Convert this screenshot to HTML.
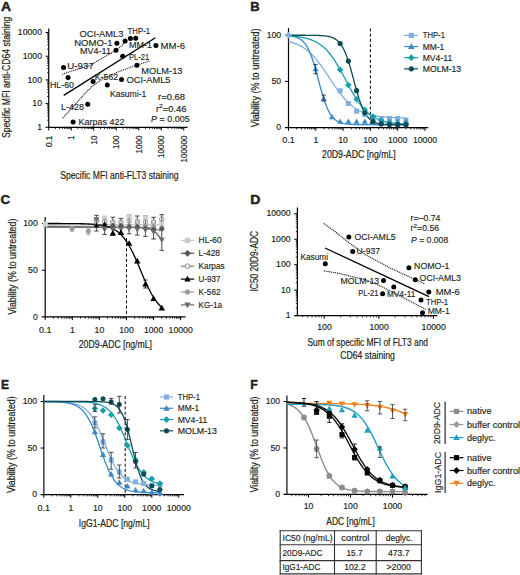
<!DOCTYPE html>
<html><head><meta charset="utf-8"><style>
html,body{margin:0;padding:0;background:#fff;}
svg{display:block;}
text{font-family:"Liberation Sans", sans-serif;fill:#231f20;stroke:#231f20;stroke-width:0.15px;}
.t{stroke-width:0.2px;}
.pl{stroke-width:0.45px;}
.ti{stroke-width:0.18px;}
</style></head><body>
<svg width="520" height="575" viewBox="0 0 520 575">
<rect width="520" height="575" fill="#fff"/>
<text x="0.9" y="11.1" font-size="13.4" class="pl" textLength="10.1" lengthAdjust="spacingAndGlyphs" font-weight="bold" fill="#000" stroke="#000">A</text>
<text x="250.3" y="10.8" font-size="13.4" class="pl" textLength="9.4" lengthAdjust="spacingAndGlyphs" font-weight="bold" fill="#000" stroke="#000">B</text>
<text x="0.6" y="204.1" font-size="13.4" class="pl" textLength="9.6" lengthAdjust="spacingAndGlyphs" font-weight="bold" fill="#000" stroke="#000">C</text>
<text x="250.2" y="204.1" font-size="13.4" class="pl" textLength="10.2" lengthAdjust="spacingAndGlyphs" font-weight="bold" fill="#000" stroke="#000">D</text>
<text x="1" y="389.2" font-size="13.4" class="pl" textLength="8" lengthAdjust="spacingAndGlyphs" font-weight="bold" fill="#000" stroke="#000">E</text>
<text x="250.3" y="389.2" font-size="13.4" class="pl" textLength="7.6" lengthAdjust="spacingAndGlyphs" font-weight="bold" fill="#000" stroke="#000">F</text>
<line x1="48.75" y1="28.5" x2="48.75" y2="127.8" stroke="#000" stroke-width="1.2"/>
<line x1="45.55" y1="127.3" x2="48.75" y2="127.3" stroke="#000" stroke-width="1"/>
<line x1="47.15" y1="120.17" x2="48.75" y2="120.17" stroke="#000" stroke-width="0.85"/>
<line x1="47.15" y1="115.99" x2="48.75" y2="115.99" stroke="#000" stroke-width="0.85"/>
<line x1="47.15" y1="113.03" x2="48.75" y2="113.03" stroke="#000" stroke-width="0.85"/>
<line x1="47.15" y1="110.73" x2="48.75" y2="110.73" stroke="#000" stroke-width="0.85"/>
<line x1="47.15" y1="108.86" x2="48.75" y2="108.86" stroke="#000" stroke-width="0.85"/>
<line x1="47.15" y1="107.27" x2="48.75" y2="107.27" stroke="#000" stroke-width="0.85"/>
<line x1="47.15" y1="105.9" x2="48.75" y2="105.9" stroke="#000" stroke-width="0.85"/>
<line x1="47.15" y1="104.68" x2="48.75" y2="104.68" stroke="#000" stroke-width="0.85"/>
<line x1="45.55" y1="103.6" x2="48.75" y2="103.6" stroke="#000" stroke-width="1"/>
<line x1="47.15" y1="96.47" x2="48.75" y2="96.47" stroke="#000" stroke-width="0.85"/>
<line x1="47.15" y1="92.29" x2="48.75" y2="92.29" stroke="#000" stroke-width="0.85"/>
<line x1="47.15" y1="89.33" x2="48.75" y2="89.33" stroke="#000" stroke-width="0.85"/>
<line x1="47.15" y1="87.03" x2="48.75" y2="87.03" stroke="#000" stroke-width="0.85"/>
<line x1="47.15" y1="85.16" x2="48.75" y2="85.16" stroke="#000" stroke-width="0.85"/>
<line x1="47.15" y1="83.57" x2="48.75" y2="83.57" stroke="#000" stroke-width="0.85"/>
<line x1="47.15" y1="82.2" x2="48.75" y2="82.2" stroke="#000" stroke-width="0.85"/>
<line x1="47.15" y1="80.98" x2="48.75" y2="80.98" stroke="#000" stroke-width="0.85"/>
<line x1="45.55" y1="79.9" x2="48.75" y2="79.9" stroke="#000" stroke-width="1"/>
<line x1="47.15" y1="72.77" x2="48.75" y2="72.77" stroke="#000" stroke-width="0.85"/>
<line x1="47.15" y1="68.59" x2="48.75" y2="68.59" stroke="#000" stroke-width="0.85"/>
<line x1="47.15" y1="65.63" x2="48.75" y2="65.63" stroke="#000" stroke-width="0.85"/>
<line x1="47.15" y1="63.33" x2="48.75" y2="63.33" stroke="#000" stroke-width="0.85"/>
<line x1="47.15" y1="61.46" x2="48.75" y2="61.46" stroke="#000" stroke-width="0.85"/>
<line x1="47.15" y1="59.87" x2="48.75" y2="59.87" stroke="#000" stroke-width="0.85"/>
<line x1="47.15" y1="58.5" x2="48.75" y2="58.5" stroke="#000" stroke-width="0.85"/>
<line x1="47.15" y1="57.28" x2="48.75" y2="57.28" stroke="#000" stroke-width="0.85"/>
<line x1="45.55" y1="56.2" x2="48.75" y2="56.2" stroke="#000" stroke-width="1"/>
<line x1="47.15" y1="49.07" x2="48.75" y2="49.07" stroke="#000" stroke-width="0.85"/>
<line x1="47.15" y1="44.89" x2="48.75" y2="44.89" stroke="#000" stroke-width="0.85"/>
<line x1="47.15" y1="41.93" x2="48.75" y2="41.93" stroke="#000" stroke-width="0.85"/>
<line x1="47.15" y1="39.63" x2="48.75" y2="39.63" stroke="#000" stroke-width="0.85"/>
<line x1="47.15" y1="37.76" x2="48.75" y2="37.76" stroke="#000" stroke-width="0.85"/>
<line x1="47.15" y1="36.17" x2="48.75" y2="36.17" stroke="#000" stroke-width="0.85"/>
<line x1="47.15" y1="34.8" x2="48.75" y2="34.8" stroke="#000" stroke-width="0.85"/>
<line x1="47.15" y1="33.58" x2="48.75" y2="33.58" stroke="#000" stroke-width="0.85"/>
<line x1="45.55" y1="32.5" x2="48.75" y2="32.5" stroke="#000" stroke-width="1"/>
<line x1="48.1" y1="127.3" x2="187.5" y2="127.3" stroke="#000" stroke-width="1.2"/>
<line x1="48.75" y1="127.3" x2="48.75" y2="130.5" stroke="#000" stroke-width="1"/>
<line x1="55.52" y1="127.3" x2="55.52" y2="129.1" stroke="#000" stroke-width="0.85"/>
<line x1="59.49" y1="127.3" x2="59.49" y2="129.1" stroke="#000" stroke-width="0.85"/>
<line x1="62.3" y1="127.3" x2="62.3" y2="129.1" stroke="#000" stroke-width="0.85"/>
<line x1="64.48" y1="127.3" x2="64.48" y2="129.1" stroke="#000" stroke-width="0.85"/>
<line x1="66.26" y1="127.3" x2="66.26" y2="129.1" stroke="#000" stroke-width="0.85"/>
<line x1="67.76" y1="127.3" x2="67.76" y2="129.1" stroke="#000" stroke-width="0.85"/>
<line x1="69.07" y1="127.3" x2="69.07" y2="129.1" stroke="#000" stroke-width="0.85"/>
<line x1="70.22" y1="127.3" x2="70.22" y2="129.1" stroke="#000" stroke-width="0.85"/>
<line x1="71.25" y1="127.3" x2="71.25" y2="130.5" stroke="#000" stroke-width="1"/>
<line x1="78.02" y1="127.3" x2="78.02" y2="129.1" stroke="#000" stroke-width="0.85"/>
<line x1="81.99" y1="127.3" x2="81.99" y2="129.1" stroke="#000" stroke-width="0.85"/>
<line x1="84.8" y1="127.3" x2="84.8" y2="129.1" stroke="#000" stroke-width="0.85"/>
<line x1="86.98" y1="127.3" x2="86.98" y2="129.1" stroke="#000" stroke-width="0.85"/>
<line x1="88.76" y1="127.3" x2="88.76" y2="129.1" stroke="#000" stroke-width="0.85"/>
<line x1="90.26" y1="127.3" x2="90.26" y2="129.1" stroke="#000" stroke-width="0.85"/>
<line x1="91.57" y1="127.3" x2="91.57" y2="129.1" stroke="#000" stroke-width="0.85"/>
<line x1="92.72" y1="127.3" x2="92.72" y2="129.1" stroke="#000" stroke-width="0.85"/>
<line x1="93.75" y1="127.3" x2="93.75" y2="130.5" stroke="#000" stroke-width="1"/>
<line x1="100.52" y1="127.3" x2="100.52" y2="129.1" stroke="#000" stroke-width="0.85"/>
<line x1="104.49" y1="127.3" x2="104.49" y2="129.1" stroke="#000" stroke-width="0.85"/>
<line x1="107.3" y1="127.3" x2="107.3" y2="129.1" stroke="#000" stroke-width="0.85"/>
<line x1="109.48" y1="127.3" x2="109.48" y2="129.1" stroke="#000" stroke-width="0.85"/>
<line x1="111.26" y1="127.3" x2="111.26" y2="129.1" stroke="#000" stroke-width="0.85"/>
<line x1="112.76" y1="127.3" x2="112.76" y2="129.1" stroke="#000" stroke-width="0.85"/>
<line x1="114.07" y1="127.3" x2="114.07" y2="129.1" stroke="#000" stroke-width="0.85"/>
<line x1="115.22" y1="127.3" x2="115.22" y2="129.1" stroke="#000" stroke-width="0.85"/>
<line x1="116.25" y1="127.3" x2="116.25" y2="130.5" stroke="#000" stroke-width="1"/>
<line x1="123.02" y1="127.3" x2="123.02" y2="129.1" stroke="#000" stroke-width="0.85"/>
<line x1="126.99" y1="127.3" x2="126.99" y2="129.1" stroke="#000" stroke-width="0.85"/>
<line x1="129.8" y1="127.3" x2="129.8" y2="129.1" stroke="#000" stroke-width="0.85"/>
<line x1="131.98" y1="127.3" x2="131.98" y2="129.1" stroke="#000" stroke-width="0.85"/>
<line x1="133.76" y1="127.3" x2="133.76" y2="129.1" stroke="#000" stroke-width="0.85"/>
<line x1="135.26" y1="127.3" x2="135.26" y2="129.1" stroke="#000" stroke-width="0.85"/>
<line x1="136.57" y1="127.3" x2="136.57" y2="129.1" stroke="#000" stroke-width="0.85"/>
<line x1="137.72" y1="127.3" x2="137.72" y2="129.1" stroke="#000" stroke-width="0.85"/>
<line x1="138.75" y1="127.3" x2="138.75" y2="130.5" stroke="#000" stroke-width="1"/>
<line x1="145.52" y1="127.3" x2="145.52" y2="129.1" stroke="#000" stroke-width="0.85"/>
<line x1="149.49" y1="127.3" x2="149.49" y2="129.1" stroke="#000" stroke-width="0.85"/>
<line x1="152.3" y1="127.3" x2="152.3" y2="129.1" stroke="#000" stroke-width="0.85"/>
<line x1="154.48" y1="127.3" x2="154.48" y2="129.1" stroke="#000" stroke-width="0.85"/>
<line x1="156.26" y1="127.3" x2="156.26" y2="129.1" stroke="#000" stroke-width="0.85"/>
<line x1="157.76" y1="127.3" x2="157.76" y2="129.1" stroke="#000" stroke-width="0.85"/>
<line x1="159.07" y1="127.3" x2="159.07" y2="129.1" stroke="#000" stroke-width="0.85"/>
<line x1="160.22" y1="127.3" x2="160.22" y2="129.1" stroke="#000" stroke-width="0.85"/>
<line x1="161.25" y1="127.3" x2="161.25" y2="130.5" stroke="#000" stroke-width="1"/>
<line x1="168.02" y1="127.3" x2="168.02" y2="129.1" stroke="#000" stroke-width="0.85"/>
<line x1="171.99" y1="127.3" x2="171.99" y2="129.1" stroke="#000" stroke-width="0.85"/>
<line x1="174.8" y1="127.3" x2="174.8" y2="129.1" stroke="#000" stroke-width="0.85"/>
<line x1="176.98" y1="127.3" x2="176.98" y2="129.1" stroke="#000" stroke-width="0.85"/>
<line x1="178.76" y1="127.3" x2="178.76" y2="129.1" stroke="#000" stroke-width="0.85"/>
<line x1="180.26" y1="127.3" x2="180.26" y2="129.1" stroke="#000" stroke-width="0.85"/>
<line x1="181.57" y1="127.3" x2="181.57" y2="129.1" stroke="#000" stroke-width="0.85"/>
<line x1="182.72" y1="127.3" x2="182.72" y2="129.1" stroke="#000" stroke-width="0.85"/>
<line x1="183.75" y1="127.3" x2="183.75" y2="130.5" stroke="#000" stroke-width="1"/>
<text x="42" y="35.2" font-size="9" class="ti" textLength="24.2" lengthAdjust="spacingAndGlyphs" text-anchor="end">10000</text>
<text x="42" y="58.9" font-size="9" class="ti" textLength="19.36" lengthAdjust="spacingAndGlyphs" text-anchor="end">1000</text>
<text x="42" y="82.6" font-size="9" class="ti" textLength="14.52" lengthAdjust="spacingAndGlyphs" text-anchor="end">100</text>
<text x="42" y="106.3" font-size="9" class="ti" textLength="9.68" lengthAdjust="spacingAndGlyphs" text-anchor="end">10</text>
<text x="42" y="130" font-size="9" class="ti" textLength="4.84" lengthAdjust="spacingAndGlyphs" text-anchor="end">1</text>
<text transform="translate(51.95 135.5) rotate(-90)" font-size="8.6" class="ti" textLength="11.61" lengthAdjust="spacingAndGlyphs" text-anchor="end">0.1</text>
<text transform="translate(74.45 135.5) rotate(-90)" font-size="8.6" class="ti" textLength="4.5" lengthAdjust="spacingAndGlyphs" text-anchor="end">1</text>
<text transform="translate(96.95 135.5) rotate(-90)" font-size="8.6" class="ti" textLength="9" lengthAdjust="spacingAndGlyphs" text-anchor="end">10</text>
<text transform="translate(119.45 135.5) rotate(-90)" font-size="8.6" class="ti" textLength="13.5" lengthAdjust="spacingAndGlyphs" text-anchor="end">100</text>
<text transform="translate(141.95 135.5) rotate(-90)" font-size="8.6" class="ti" textLength="18" lengthAdjust="spacingAndGlyphs" text-anchor="end">1000</text>
<text transform="translate(164.45 135.5) rotate(-90)" font-size="8.6" class="ti" textLength="22.51" lengthAdjust="spacingAndGlyphs" text-anchor="end">10000</text>
<text transform="translate(186.95 135.5) rotate(-90)" font-size="8.6" class="ti" textLength="27.01" lengthAdjust="spacingAndGlyphs" text-anchor="end">100000</text>
<text transform="translate(9.8 77.3) rotate(-90)" font-size="10.8" class="t" textLength="121.3" lengthAdjust="spacingAndGlyphs" text-anchor="middle">Specific MFI anti-CD64 staining</text>
<text x="60.2" y="178.7" font-size="10.8" class="t" textLength="118.3" lengthAdjust="spacingAndGlyphs">Specific MFI anti-FLT3 staining</text>
<polyline points="62.8,74.1 75,70 89.6,65.5 100,59.5 112.1,52.5 120.8,46.6 126,40.8" fill="none" stroke="#2a2a2a" stroke-width="1.3" stroke-linejoin="round" stroke-dasharray="0.01,1.9" stroke-linecap="round"/>
<polyline points="63.1,117.5 70,110.2 77.7,101.5 85,93.5 92.3,86.2 103.1,78.5 119.2,71.5 134.6,65.8 150.6,60.6" fill="none" stroke="#2a2a2a" stroke-width="1.3" stroke-linejoin="round" stroke-dasharray="0.01,1.9" stroke-linecap="round"/>
<line x1="63.7" y1="95.4" x2="155.4" y2="37.8" stroke="#000" stroke-width="1.3"/>
<circle cx="73.1" cy="121.9" r="2.5" fill="#000"/>
<circle cx="87.75" cy="104.2" r="2.5" fill="#000"/>
<circle cx="68.1" cy="77.5" r="2.5" fill="#000"/>
<circle cx="63.5" cy="67.6" r="2.5" fill="#000"/>
<circle cx="93.1" cy="81.5" r="2.5" fill="#000"/>
<circle cx="107.3" cy="85" r="2.5" fill="#000"/>
<circle cx="121.5" cy="79.4" r="2.5" fill="#000"/>
<circle cx="136.9" cy="65.3" r="2.5" fill="#000"/>
<circle cx="122.7" cy="56.25" r="2.5" fill="#000"/>
<circle cx="116" cy="50.2" r="2.5" fill="#000"/>
<circle cx="116.9" cy="43.3" r="2.5" fill="#000"/>
<circle cx="125.1" cy="40.9" r="2.5" fill="#000"/>
<circle cx="130.4" cy="38.5" r="2.5" fill="#000"/>
<circle cx="135.7" cy="38.3" r="2.5" fill="#000"/>
<circle cx="155.9" cy="45.4" r="2.5" fill="#000"/>
<text x="79.4" y="37.2" font-size="9.4" textLength="44.1" lengthAdjust="spacingAndGlyphs">OCI-AML3</text>
<text x="127.5" y="33.7" font-size="9.4" textLength="22.6" lengthAdjust="spacingAndGlyphs">THP-1</text>
<text x="74.2" y="45.8" font-size="9.4" textLength="38.3" lengthAdjust="spacingAndGlyphs">NOMO-1</text>
<text x="129" y="48.2" font-size="9.4" textLength="23" lengthAdjust="spacingAndGlyphs">MM-1</text>
<text x="160.6" y="48.6" font-size="9.4" textLength="24.4" lengthAdjust="spacingAndGlyphs">MM-6</text>
<text x="80" y="53.9" font-size="9.4" textLength="31" lengthAdjust="spacingAndGlyphs">MV4-11</text>
<text x="129" y="60.1" font-size="9.4" textLength="20.1" lengthAdjust="spacingAndGlyphs">PL-21</text>
<text x="67.3" y="69.1" font-size="9.4" textLength="26.5" lengthAdjust="spacingAndGlyphs">U-937</text>
<text x="141.2" y="74.1" font-size="9.4" textLength="41.3" lengthAdjust="spacingAndGlyphs">MOLM-13</text>
<text x="94.8" y="79.5" font-size="9.4" textLength="23.3" lengthAdjust="spacingAndGlyphs">K-562</text>
<text x="126.5" y="83.2" font-size="9.4" textLength="44" lengthAdjust="spacingAndGlyphs">OCI-AML5</text>
<text x="50" y="87.6" font-size="9.4" textLength="24" lengthAdjust="spacingAndGlyphs">HL-60</text>
<text x="110" y="96.6" font-size="9.4" textLength="36.3" lengthAdjust="spacingAndGlyphs">Kasumi-1</text>
<text x="61" y="109.5" font-size="9.4" textLength="23" lengthAdjust="spacingAndGlyphs">L-428</text>
<text x="78.5" y="124.5" font-size="9.4" textLength="46" lengthAdjust="spacingAndGlyphs">Karpas 422</text>
<text x="158" y="99.6" font-size="8.6" textLength="27" lengthAdjust="spacingAndGlyphs">r=0.68</text>
<text x="155.9" y="111.7" font-size="8.6" textLength="30.6" lengthAdjust="spacingAndGlyphs">r<tspan font-size="6.2" dy="-3.3">2</tspan><tspan dy="3.3">=0.46</tspan></text>
<text x="151.1" y="121.8" font-size="8.6" textLength="38.6" lengthAdjust="spacingAndGlyphs"><tspan font-style="italic">P</tspan> = 0.005</text>
<line x1="288.5" y1="28.2" x2="288.5" y2="128.1" stroke="#000" stroke-width="1.2"/>
<line x1="285" y1="35.25" x2="288.5" y2="35.25" stroke="#000" stroke-width="1"/>
<line x1="285" y1="81.38" x2="288.5" y2="81.38" stroke="#000" stroke-width="1"/>
<line x1="285" y1="127.6" x2="428.2" y2="127.6" stroke="#000" stroke-width="1.2"/>
<line x1="288.5" y1="127.6" x2="288.5" y2="130.8" stroke="#000" stroke-width="1"/>
<line x1="296.72" y1="127.6" x2="296.72" y2="129.4" stroke="#000" stroke-width="0.85"/>
<line x1="301.53" y1="127.6" x2="301.53" y2="129.4" stroke="#000" stroke-width="0.85"/>
<line x1="304.94" y1="127.6" x2="304.94" y2="129.4" stroke="#000" stroke-width="0.85"/>
<line x1="307.58" y1="127.6" x2="307.58" y2="129.4" stroke="#000" stroke-width="0.85"/>
<line x1="309.74" y1="127.6" x2="309.74" y2="129.4" stroke="#000" stroke-width="0.85"/>
<line x1="311.57" y1="127.6" x2="311.57" y2="129.4" stroke="#000" stroke-width="0.85"/>
<line x1="313.15" y1="127.6" x2="313.15" y2="129.4" stroke="#000" stroke-width="0.85"/>
<line x1="314.55" y1="127.6" x2="314.55" y2="129.4" stroke="#000" stroke-width="0.85"/>
<line x1="315.8" y1="127.6" x2="315.8" y2="130.8" stroke="#000" stroke-width="1"/>
<line x1="324.02" y1="127.6" x2="324.02" y2="129.4" stroke="#000" stroke-width="0.85"/>
<line x1="328.83" y1="127.6" x2="328.83" y2="129.4" stroke="#000" stroke-width="0.85"/>
<line x1="332.24" y1="127.6" x2="332.24" y2="129.4" stroke="#000" stroke-width="0.85"/>
<line x1="334.88" y1="127.6" x2="334.88" y2="129.4" stroke="#000" stroke-width="0.85"/>
<line x1="337.04" y1="127.6" x2="337.04" y2="129.4" stroke="#000" stroke-width="0.85"/>
<line x1="338.87" y1="127.6" x2="338.87" y2="129.4" stroke="#000" stroke-width="0.85"/>
<line x1="340.45" y1="127.6" x2="340.45" y2="129.4" stroke="#000" stroke-width="0.85"/>
<line x1="341.85" y1="127.6" x2="341.85" y2="129.4" stroke="#000" stroke-width="0.85"/>
<line x1="343.1" y1="127.6" x2="343.1" y2="130.8" stroke="#000" stroke-width="1"/>
<line x1="351.32" y1="127.6" x2="351.32" y2="129.4" stroke="#000" stroke-width="0.85"/>
<line x1="356.13" y1="127.6" x2="356.13" y2="129.4" stroke="#000" stroke-width="0.85"/>
<line x1="359.54" y1="127.6" x2="359.54" y2="129.4" stroke="#000" stroke-width="0.85"/>
<line x1="362.18" y1="127.6" x2="362.18" y2="129.4" stroke="#000" stroke-width="0.85"/>
<line x1="364.34" y1="127.6" x2="364.34" y2="129.4" stroke="#000" stroke-width="0.85"/>
<line x1="366.17" y1="127.6" x2="366.17" y2="129.4" stroke="#000" stroke-width="0.85"/>
<line x1="367.75" y1="127.6" x2="367.75" y2="129.4" stroke="#000" stroke-width="0.85"/>
<line x1="369.15" y1="127.6" x2="369.15" y2="129.4" stroke="#000" stroke-width="0.85"/>
<line x1="370.4" y1="127.6" x2="370.4" y2="130.8" stroke="#000" stroke-width="1"/>
<line x1="378.62" y1="127.6" x2="378.62" y2="129.4" stroke="#000" stroke-width="0.85"/>
<line x1="383.43" y1="127.6" x2="383.43" y2="129.4" stroke="#000" stroke-width="0.85"/>
<line x1="386.84" y1="127.6" x2="386.84" y2="129.4" stroke="#000" stroke-width="0.85"/>
<line x1="389.48" y1="127.6" x2="389.48" y2="129.4" stroke="#000" stroke-width="0.85"/>
<line x1="391.64" y1="127.6" x2="391.64" y2="129.4" stroke="#000" stroke-width="0.85"/>
<line x1="393.47" y1="127.6" x2="393.47" y2="129.4" stroke="#000" stroke-width="0.85"/>
<line x1="395.05" y1="127.6" x2="395.05" y2="129.4" stroke="#000" stroke-width="0.85"/>
<line x1="396.45" y1="127.6" x2="396.45" y2="129.4" stroke="#000" stroke-width="0.85"/>
<line x1="397.7" y1="127.6" x2="397.7" y2="130.8" stroke="#000" stroke-width="1"/>
<line x1="405.92" y1="127.6" x2="405.92" y2="129.4" stroke="#000" stroke-width="0.85"/>
<line x1="410.73" y1="127.6" x2="410.73" y2="129.4" stroke="#000" stroke-width="0.85"/>
<line x1="414.14" y1="127.6" x2="414.14" y2="129.4" stroke="#000" stroke-width="0.85"/>
<line x1="416.78" y1="127.6" x2="416.78" y2="129.4" stroke="#000" stroke-width="0.85"/>
<line x1="418.94" y1="127.6" x2="418.94" y2="129.4" stroke="#000" stroke-width="0.85"/>
<line x1="420.77" y1="127.6" x2="420.77" y2="129.4" stroke="#000" stroke-width="0.85"/>
<line x1="422.35" y1="127.6" x2="422.35" y2="129.4" stroke="#000" stroke-width="0.85"/>
<line x1="423.75" y1="127.6" x2="423.75" y2="129.4" stroke="#000" stroke-width="0.85"/>
<line x1="425" y1="127.6" x2="425" y2="130.8" stroke="#000" stroke-width="1"/>
<text x="281.2" y="37.95" font-size="9" class="ti" textLength="14.52" lengthAdjust="spacingAndGlyphs" text-anchor="end">100</text>
<text x="281.2" y="84.08" font-size="9" class="ti" textLength="9.68" lengthAdjust="spacingAndGlyphs" text-anchor="end">50</text>
<text x="281.2" y="130.2" font-size="9" class="ti" textLength="4.84" lengthAdjust="spacingAndGlyphs" text-anchor="end">0</text>
<text x="288.5" y="142.5" font-size="9" class="ti" textLength="12.48" lengthAdjust="spacingAndGlyphs" text-anchor="middle">0.1</text>
<text x="315.8" y="142.5" font-size="9" class="ti" textLength="4.84" lengthAdjust="spacingAndGlyphs" text-anchor="middle">1</text>
<text x="343.1" y="142.5" font-size="9" class="ti" textLength="9.68" lengthAdjust="spacingAndGlyphs" text-anchor="middle">10</text>
<text x="370.4" y="142.5" font-size="9" class="ti" textLength="14.52" lengthAdjust="spacingAndGlyphs" text-anchor="middle">100</text>
<text x="397.7" y="142.5" font-size="9" class="ti" textLength="19.36" lengthAdjust="spacingAndGlyphs" text-anchor="middle">1000</text>
<text x="425" y="142.5" font-size="9" class="ti" textLength="24.2" lengthAdjust="spacingAndGlyphs" text-anchor="middle">10000</text>
<text x="322.1" y="157.8" font-size="10.4" class="t" textLength="73.6" lengthAdjust="spacingAndGlyphs">20D9-ADC [ng/mL]</text>
<text transform="translate(259 77.8) rotate(-90)" font-size="10.3" class="t" textLength="98.9" lengthAdjust="spacingAndGlyphs" text-anchor="middle">Viability (% to untreated)</text>
<line x1="370.4" y1="28.5" x2="370.4" y2="127" stroke="#000" stroke-width="1" stroke-dasharray="3,2.2"/>
<polyline points="288.5,41.41 289.97,41.8 291.44,42.22 292.9,42.68 294.37,43.2 295.84,43.77 297.31,44.39 298.77,45.07 300.24,45.82 301.71,46.65 303.18,47.54 304.64,48.52 306.11,49.58 307.58,50.72 309.05,51.96 310.52,53.29 311.98,54.72 313.45,56.24 314.92,57.86 316.39,59.57 317.85,61.37 319.32,63.25 320.79,65.22 322.26,67.26 323.73,69.36 325.19,71.51 326.66,73.7 328.13,75.92 329.6,78.16 331.06,80.39 332.53,82.61 334,84.8 335.47,86.95 336.93,89.05 338.4,91.09 339.87,93.05 341.34,94.94 342.81,96.74 344.27,98.45 345.74,100.07 347.21,101.59 348.68,103.01 350.14,104.34 351.61,105.58 353.08,106.72 354.55,107.78 356.02,108.76 357.48,109.65 358.95,110.47 360.42,111.22 361.89,111.91 363.35,112.53 364.82,113.1 366.29,113.61 367.76,114.08 369.22,114.5 370.69,114.88 372.16,115.23 373.63,115.54 375.1,115.82 376.56,116.07 378.03,116.29 379.5,116.5 380.97,116.68 382.43,116.85 383.9,117 385.37,117.13 386.84,117.25 388.31,117.35 389.77,117.45 391.24,117.54 392.71,117.61 394.18,117.68 395.64,117.75 397.11,117.8 398.58,117.85 400.05,117.9 401.51,117.93 402.98,117.97 404.45,118 405.92,118.03" fill="none" stroke="#7fb0e0" stroke-width="1.3" stroke-linejoin="round"/>
<polyline points="288.5,35.82 289.97,35.98 291.44,36.18 292.9,36.44 294.37,36.77 295.84,37.18 297.31,37.71 298.77,38.38 300.24,39.22 301.71,40.27 303.18,41.58 304.64,43.2 306.11,45.18 307.58,47.59 309.05,50.47 310.52,53.85 311.98,57.76 313.45,62.19 314.92,67.06 316.39,72.3 317.85,77.76 319.32,83.29 320.79,88.72 322.26,93.9 323.73,98.69 325.19,103.02 326.66,106.83 328.13,110.11 329.6,112.9 331.06,115.22 332.53,117.13 334,118.68 335.47,119.94 336.93,120.94 338.4,121.75 339.87,122.38 341.34,122.89 342.81,123.29 344.27,123.6 345.74,123.85 347.21,124.04 348.68,124.19 350.14,124.31 351.61,124.4 353.08,124.47 354.55,124.53 356.02,124.57 357.48,124.61 358.95,124.64 360.42,124.66 361.89,124.67 363.35,124.69 364.82,124.7 366.29,124.7 367.76,124.71 369.22,124.72 370.69,124.72 372.16,124.72 373.63,124.72 375.1,124.73 376.56,124.73 378.03,124.73 379.5,124.73 380.97,124.73 382.43,124.73 383.9,124.73 385.37,124.73 386.84,124.73 388.31,124.73 389.77,124.73 391.24,124.73 392.71,124.73 394.18,124.73 395.64,124.73 397.11,124.73 398.58,124.73 400.05,124.73 401.51,124.73 402.98,124.73 404.45,124.73 405.92,124.73" fill="none" stroke="#3a88c8" stroke-width="1.3" stroke-linejoin="round"/>
<polyline points="288.5,35.96 289.97,36.05 291.44,36.16 292.9,36.28 294.37,36.41 295.84,36.56 297.31,36.73 298.77,36.92 300.24,37.14 301.71,37.38 303.18,37.65 304.64,37.96 306.11,38.3 307.58,38.69 309.05,39.13 310.52,39.61 311.98,40.15 313.45,40.76 314.92,41.44 316.39,42.19 317.85,43.02 319.32,43.95 320.79,44.97 322.26,46.1 323.73,47.33 325.19,48.69 326.66,50.16 328.13,51.76 329.6,53.5 331.06,55.36 332.53,57.36 334,59.48 335.47,61.73 336.93,64.09 338.4,66.56 339.87,69.13 341.34,71.77 342.81,74.47 344.27,77.22 345.74,79.98 347.21,82.75 348.68,85.49 350.14,88.2 351.61,90.84 353.08,93.4 354.55,95.88 356.02,98.24 357.48,100.49 358.95,102.62 360.42,104.61 361.89,106.48 363.35,108.21 364.82,109.81 366.29,111.29 367.76,112.64 369.22,113.88 370.69,115.01 372.16,116.03 373.63,116.95 375.1,117.79 376.56,118.54 378.03,119.22 379.5,119.83 380.97,120.37 382.43,120.85 383.9,121.29 385.37,121.68 386.84,122.02 388.31,122.33 389.77,122.6 391.24,122.84 392.71,123.06 394.18,123.25 395.64,123.42 397.11,123.57 398.58,123.71 400.05,123.82 401.51,123.93 402.98,124.02 404.45,124.1 405.92,124.18" fill="none" stroke="#17a0aa" stroke-width="1.3" stroke-linejoin="round"/>
<polyline points="288.5,35.25 289.97,35.25 291.44,35.25 292.9,35.25 294.37,35.25 295.84,35.26 297.31,35.26 298.77,35.26 300.24,35.26 301.71,35.26 303.18,35.27 304.64,35.27 306.11,35.28 307.58,35.29 309.05,35.3 310.52,35.31 311.98,35.33 313.45,35.35 314.92,35.38 316.39,35.41 317.85,35.46 319.32,35.52 320.79,35.59 322.26,35.69 323.73,35.81 325.19,35.97 326.66,36.17 328.13,36.43 329.6,36.75 331.06,37.17 332.53,37.69 334,38.35 335.47,39.18 336.93,40.23 338.4,41.53 339.87,43.13 341.34,45.11 342.81,47.49 344.27,50.35 345.74,53.72 347.21,57.61 348.68,62.02 350.14,66.88 351.61,72.1 353.08,77.56 354.55,83.09 356.02,88.53 357.48,93.72 358.95,98.53 360.42,102.87 361.89,106.7 363.35,110 364.82,112.8 366.29,115.14 367.76,117.06 369.22,118.63 370.69,119.9 372.16,120.91 373.63,121.72 375.1,122.36 376.56,122.87 378.03,123.27 379.5,123.59 380.97,123.84 382.43,124.03 383.9,124.19 385.37,124.3 386.84,124.4 388.31,124.47 389.77,124.53 391.24,124.57 392.71,124.61 394.18,124.64 395.64,124.66 397.11,124.67 398.58,124.69 400.05,124.7 401.51,124.7 402.98,124.71 404.45,124.72 405.92,124.72" fill="none" stroke="#0c4a58" stroke-width="1.3" stroke-linejoin="round"/>
<rect x="403.42" y="117.5" width="5" height="5" fill="#7fb0e0"/>
<rect x="395.2" y="116" width="5" height="5" fill="#7fb0e0"/>
<rect x="386.98" y="116" width="5" height="5" fill="#7fb0e0"/>
<rect x="378.76" y="116" width="5" height="5" fill="#7fb0e0"/>
<rect x="370.55" y="114.9" width="5" height="5" fill="#7fb0e0"/>
<rect x="362.33" y="112.1" width="5" height="5" fill="#7fb0e0"/>
<rect x="354.11" y="108.7" width="5" height="5" fill="#7fb0e0"/>
<rect x="345.87" y="101" width="5" height="5" fill="#7fb0e0"/>
<rect x="337.65" y="88.3" width="5" height="5" fill="#7fb0e0"/>
<polygon points="405.92,118.5 408.92,123.75 402.92,123.75" fill="#3a88c8"/>
<polygon points="397.7,118.5 400.7,123.75 394.7,123.75" fill="#3a88c8"/>
<polygon points="389.48,118.5 392.48,123.75 386.48,123.75" fill="#3a88c8"/>
<polygon points="381.26,118.5 384.26,123.75 378.26,123.75" fill="#3a88c8"/>
<polygon points="373.05,118.5 376.05,123.75 370.05,123.75" fill="#3a88c8"/>
<polygon points="364.83,118.5 367.83,123.75 361.83,123.75" fill="#3a88c8"/>
<polygon points="356.61,118.5 359.61,123.75 353.61,123.75" fill="#3a88c8"/>
<polygon points="348.37,118.5 351.37,123.75 345.37,123.75" fill="#3a88c8"/>
<polygon points="340.15,118.5 343.15,123.75 337.15,123.75" fill="#3a88c8"/>
<polygon points="331.94,113.9 334.94,119.15 328.94,119.15" fill="#3a88c8"/>
<polygon points="323.72,95.7 326.72,100.95 320.72,100.95" fill="#3a88c8"/>
<polygon points="315.56,66 318.56,71.25 312.56,71.25" fill="#3a88c8"/>
<line x1="315.56" y1="64.4" x2="315.56" y2="73.7" stroke="#222" stroke-width="0.8"/>
<line x1="313.36" y1="64.4" x2="317.76" y2="64.4" stroke="#222" stroke-width="0.8"/>
<line x1="313.36" y1="73.7" x2="317.76" y2="73.7" stroke="#222" stroke-width="0.8"/>
<line x1="323.72" y1="95" x2="323.72" y2="101" stroke="#222" stroke-width="0.8"/>
<line x1="321.52" y1="95" x2="325.92" y2="95" stroke="#222" stroke-width="0.8"/>
<line x1="321.52" y1="101" x2="325.92" y2="101" stroke="#222" stroke-width="0.8"/>
<polygon points="405.92,120.93 409.17,124.18 405.92,127.43 402.67,124.18" fill="#17a0aa"/>
<polygon points="397.7,120.38 400.95,123.63 397.7,126.88 394.45,123.63" fill="#17a0aa"/>
<polygon points="389.48,119.3 392.73,122.55 389.48,125.8 386.23,122.55" fill="#17a0aa"/>
<polygon points="381.26,117.22 384.51,120.47 381.26,123.72 378.01,120.47" fill="#17a0aa"/>
<polygon points="373.05,113.35 376.3,116.6 373.05,119.85 369.8,116.6" fill="#17a0aa"/>
<polygon points="364.83,106.57 368.08,109.82 364.83,113.07 361.58,109.82" fill="#17a0aa"/>
<polygon points="356.61,95.92 359.86,99.17 356.61,102.42 353.36,99.17" fill="#17a0aa"/>
<polygon points="348.37,81.68 351.62,84.93 348.37,88.18 345.12,84.93" fill="#17a0aa"/>
<polygon points="340.15,66.38 343.4,69.63 340.15,72.88 336.9,69.63" fill="#17a0aa"/>
<circle cx="405.92" cy="124.72" r="2.6" fill="#0c4a58"/>
<circle cx="397.7" cy="124.68" r="2.6" fill="#0c4a58"/>
<circle cx="389.48" cy="124.52" r="2.6" fill="#0c4a58"/>
<circle cx="381.26" cy="123.88" r="2.6" fill="#0c4a58"/>
<circle cx="373.05" cy="121.42" r="2.6" fill="#0c4a58"/>
<circle cx="364.83" cy="112.81" r="2.6" fill="#0c4a58"/>
<circle cx="356.61" cy="90.67" r="2.6" fill="#0c4a58"/>
<circle cx="348.37" cy="61.06" r="2.6" fill="#0c4a58"/>
<circle cx="340.15" cy="43.49" r="2.6" fill="#0c4a58"/>
<polygon points="288.5,31.87 291.88,35.25 288.5,38.63 285.12,35.25" fill="#7fb0e0"/>
<line x1="404.2" y1="35.4" x2="418" y2="35.4" stroke="#7fb0e0" stroke-width="1.2"/>
<rect x="408.7" y="32.8" width="5.2" height="5.2" fill="#7fb0e0"/>
<text x="422.7" y="38.4" font-size="8.4" textLength="22.3" lengthAdjust="spacingAndGlyphs">THP-1</text>
<line x1="404.2" y1="46.55" x2="418" y2="46.55" stroke="#3a88c8" stroke-width="1.2"/>
<polygon points="411.3,43.3 414.55,48.99 408.05,48.99" fill="#3a88c8"/>
<text x="422.7" y="49.55" font-size="8.4" textLength="21.5" lengthAdjust="spacingAndGlyphs">MM-1</text>
<line x1="404.2" y1="57.7" x2="418" y2="57.7" stroke="#17a0aa" stroke-width="1.2"/>
<polygon points="411.3,54.32 414.68,57.7 411.3,61.08 407.92,57.7" fill="#17a0aa"/>
<text x="422.7" y="60.7" font-size="8.4" textLength="29.5" lengthAdjust="spacingAndGlyphs">MV4-11</text>
<line x1="404.2" y1="68.85" x2="418" y2="68.85" stroke="#0c4a58" stroke-width="1.2"/>
<circle cx="411.3" cy="68.85" r="2.6" fill="#0c4a58"/>
<text x="422.7" y="71.85" font-size="8.4" textLength="38.5" lengthAdjust="spacingAndGlyphs">MOLM-13</text>
<line x1="45.2" y1="216.9" x2="45.2" y2="317.5" stroke="#000" stroke-width="1.2"/>
<line x1="41.9" y1="223.5" x2="45.2" y2="223.5" stroke="#000" stroke-width="1"/>
<line x1="41.9" y1="270.25" x2="45.2" y2="270.25" stroke="#000" stroke-width="1"/>
<line x1="41.9" y1="316.9" x2="185.5" y2="316.9" stroke="#000" stroke-width="1.2"/>
<line x1="45.2" y1="316.9" x2="45.2" y2="320.1" stroke="#000" stroke-width="1"/>
<line x1="53.36" y1="316.9" x2="53.36" y2="318.7" stroke="#000" stroke-width="0.85"/>
<line x1="58.13" y1="316.9" x2="58.13" y2="318.7" stroke="#000" stroke-width="0.85"/>
<line x1="61.52" y1="316.9" x2="61.52" y2="318.7" stroke="#000" stroke-width="0.85"/>
<line x1="64.14" y1="316.9" x2="64.14" y2="318.7" stroke="#000" stroke-width="0.85"/>
<line x1="66.29" y1="316.9" x2="66.29" y2="318.7" stroke="#000" stroke-width="0.85"/>
<line x1="68.1" y1="316.9" x2="68.1" y2="318.7" stroke="#000" stroke-width="0.85"/>
<line x1="69.67" y1="316.9" x2="69.67" y2="318.7" stroke="#000" stroke-width="0.85"/>
<line x1="71.06" y1="316.9" x2="71.06" y2="318.7" stroke="#000" stroke-width="0.85"/>
<line x1="72.3" y1="316.9" x2="72.3" y2="320.1" stroke="#000" stroke-width="1"/>
<line x1="80.46" y1="316.9" x2="80.46" y2="318.7" stroke="#000" stroke-width="0.85"/>
<line x1="85.23" y1="316.9" x2="85.23" y2="318.7" stroke="#000" stroke-width="0.85"/>
<line x1="88.62" y1="316.9" x2="88.62" y2="318.7" stroke="#000" stroke-width="0.85"/>
<line x1="91.24" y1="316.9" x2="91.24" y2="318.7" stroke="#000" stroke-width="0.85"/>
<line x1="93.39" y1="316.9" x2="93.39" y2="318.7" stroke="#000" stroke-width="0.85"/>
<line x1="95.2" y1="316.9" x2="95.2" y2="318.7" stroke="#000" stroke-width="0.85"/>
<line x1="96.77" y1="316.9" x2="96.77" y2="318.7" stroke="#000" stroke-width="0.85"/>
<line x1="98.16" y1="316.9" x2="98.16" y2="318.7" stroke="#000" stroke-width="0.85"/>
<line x1="99.4" y1="316.9" x2="99.4" y2="320.1" stroke="#000" stroke-width="1"/>
<line x1="107.56" y1="316.9" x2="107.56" y2="318.7" stroke="#000" stroke-width="0.85"/>
<line x1="112.33" y1="316.9" x2="112.33" y2="318.7" stroke="#000" stroke-width="0.85"/>
<line x1="115.72" y1="316.9" x2="115.72" y2="318.7" stroke="#000" stroke-width="0.85"/>
<line x1="118.34" y1="316.9" x2="118.34" y2="318.7" stroke="#000" stroke-width="0.85"/>
<line x1="120.49" y1="316.9" x2="120.49" y2="318.7" stroke="#000" stroke-width="0.85"/>
<line x1="122.3" y1="316.9" x2="122.3" y2="318.7" stroke="#000" stroke-width="0.85"/>
<line x1="123.87" y1="316.9" x2="123.87" y2="318.7" stroke="#000" stroke-width="0.85"/>
<line x1="125.26" y1="316.9" x2="125.26" y2="318.7" stroke="#000" stroke-width="0.85"/>
<line x1="126.5" y1="316.9" x2="126.5" y2="320.1" stroke="#000" stroke-width="1"/>
<line x1="134.66" y1="316.9" x2="134.66" y2="318.7" stroke="#000" stroke-width="0.85"/>
<line x1="139.43" y1="316.9" x2="139.43" y2="318.7" stroke="#000" stroke-width="0.85"/>
<line x1="142.82" y1="316.9" x2="142.82" y2="318.7" stroke="#000" stroke-width="0.85"/>
<line x1="145.44" y1="316.9" x2="145.44" y2="318.7" stroke="#000" stroke-width="0.85"/>
<line x1="147.59" y1="316.9" x2="147.59" y2="318.7" stroke="#000" stroke-width="0.85"/>
<line x1="149.4" y1="316.9" x2="149.4" y2="318.7" stroke="#000" stroke-width="0.85"/>
<line x1="150.97" y1="316.9" x2="150.97" y2="318.7" stroke="#000" stroke-width="0.85"/>
<line x1="152.36" y1="316.9" x2="152.36" y2="318.7" stroke="#000" stroke-width="0.85"/>
<line x1="153.6" y1="316.9" x2="153.6" y2="320.1" stroke="#000" stroke-width="1"/>
<line x1="161.76" y1="316.9" x2="161.76" y2="318.7" stroke="#000" stroke-width="0.85"/>
<line x1="166.53" y1="316.9" x2="166.53" y2="318.7" stroke="#000" stroke-width="0.85"/>
<line x1="169.92" y1="316.9" x2="169.92" y2="318.7" stroke="#000" stroke-width="0.85"/>
<line x1="172.54" y1="316.9" x2="172.54" y2="318.7" stroke="#000" stroke-width="0.85"/>
<line x1="174.69" y1="316.9" x2="174.69" y2="318.7" stroke="#000" stroke-width="0.85"/>
<line x1="176.5" y1="316.9" x2="176.5" y2="318.7" stroke="#000" stroke-width="0.85"/>
<line x1="178.07" y1="316.9" x2="178.07" y2="318.7" stroke="#000" stroke-width="0.85"/>
<line x1="179.46" y1="316.9" x2="179.46" y2="318.7" stroke="#000" stroke-width="0.85"/>
<line x1="180.7" y1="316.9" x2="180.7" y2="320.1" stroke="#000" stroke-width="1"/>
<text x="37.8" y="226.2" font-size="9" class="ti" textLength="14.52" lengthAdjust="spacingAndGlyphs" text-anchor="end">100</text>
<text x="37.8" y="272.95" font-size="9" class="ti" textLength="9.68" lengthAdjust="spacingAndGlyphs" text-anchor="end">50</text>
<text x="37.8" y="319.7" font-size="9" class="ti" textLength="4.84" lengthAdjust="spacingAndGlyphs" text-anchor="end">0</text>
<text x="45.2" y="332.9" font-size="9" class="ti" textLength="12.48" lengthAdjust="spacingAndGlyphs" text-anchor="middle">0.1</text>
<text x="72.3" y="332.9" font-size="9" class="ti" textLength="4.84" lengthAdjust="spacingAndGlyphs" text-anchor="middle">1</text>
<text x="99.4" y="332.9" font-size="9" class="ti" textLength="9.68" lengthAdjust="spacingAndGlyphs" text-anchor="middle">10</text>
<text x="126.5" y="332.9" font-size="9" class="ti" textLength="14.52" lengthAdjust="spacingAndGlyphs" text-anchor="middle">100</text>
<text x="153.6" y="332.9" font-size="9" class="ti" textLength="19.36" lengthAdjust="spacingAndGlyphs" text-anchor="middle">1000</text>
<text x="180.7" y="332.9" font-size="9" class="ti" textLength="24.2" lengthAdjust="spacingAndGlyphs" text-anchor="middle">10000</text>
<text x="78.8" y="348.3" font-size="10.4" class="t" textLength="73.1" lengthAdjust="spacingAndGlyphs">20D9-ADC [ng/mL]</text>
<text transform="translate(16.4 266.7) rotate(-90)" font-size="10.3" class="t" textLength="96.2" lengthAdjust="spacingAndGlyphs" text-anchor="middle">Viability (% to untreated)</text>
<line x1="126.5" y1="238" x2="126.5" y2="316" stroke="#000" stroke-width="1" stroke-dasharray="3,2.2"/>
<polyline points="46.5,224.8 160,224.8" fill="none" stroke="#bdbdbd" stroke-width="1.3" stroke-linejoin="round"/>
<polyline points="46.5,227.3 150,227.6 156,229 160,231" fill="none" stroke="#8a8a8a" stroke-width="1.3" stroke-linejoin="round"/>
<polyline points="46.5,226.5 140,227.3 150,229 156,232.5 162,240" fill="none" stroke="#6a6a6a" stroke-width="1.3" stroke-linejoin="round"/>
<polyline points="45.2,223.51 46.66,223.51 48.11,223.51 49.57,223.51 51.03,223.51 52.48,223.51 53.94,223.51 55.4,223.52 56.86,223.52 58.31,223.52 59.77,223.52 61.23,223.53 62.68,223.53 64.14,223.54 65.6,223.54 67.05,223.55 68.51,223.56 69.97,223.57 71.43,223.58 72.88,223.59 74.34,223.61 75.8,223.63 77.25,223.65 78.71,223.67 80.17,223.7 81.62,223.73 83.08,223.77 84.54,223.81 86,223.86 87.45,223.91 88.91,223.98 90.37,224.06 91.82,224.15 93.28,224.25 94.74,224.37 96.19,224.5 97.65,224.66 99.11,224.85 100.57,225.06 102.02,225.3 103.48,225.59 104.94,225.91 106.39,226.29 107.85,226.72 109.31,227.21 110.76,227.78 112.22,228.43 113.68,229.17 115.13,230.02 116.59,230.98 118.05,232.06 119.51,233.29 120.96,234.67 122.42,236.22 123.88,237.94 125.33,239.85 126.79,241.95 128.25,244.25 129.7,246.75 131.16,249.44 132.62,252.31 134.08,255.35 135.53,258.54 136.99,261.85 138.45,265.25 139.9,268.71 141.36,272.18 142.82,275.63 144.27,279.02 145.73,282.32 147.19,285.49 148.65,288.51 150.1,291.37 151.56,294.04 153.02,296.51 154.47,298.79 155.93,300.87 157.39,302.76 158.84,304.46 160.3,305.99 161.76,307.35" fill="none" stroke="#000" stroke-width="1.3" stroke-linejoin="round"/>
<circle cx="72.06" cy="228.6" r="2.5" fill="#9a9a9a"/>
<line x1="72.06" y1="227" x2="72.06" y2="231.3" stroke="#9a9a9a" stroke-width="0.8"/>
<line x1="70.06" y1="227" x2="74.06" y2="227" stroke="#9a9a9a" stroke-width="0.8"/>
<line x1="70.06" y1="231.3" x2="74.06" y2="231.3" stroke="#9a9a9a" stroke-width="0.8"/>
<circle cx="88.32" cy="231.3" r="2.5" fill="#9a9a9a"/>
<line x1="88.32" y1="229" x2="88.32" y2="234.8" stroke="#9a9a9a" stroke-width="0.8"/>
<line x1="86.32" y1="229" x2="90.32" y2="229" stroke="#9a9a9a" stroke-width="0.8"/>
<line x1="86.32" y1="234.8" x2="90.32" y2="234.8" stroke="#9a9a9a" stroke-width="0.8"/>
<line x1="96.48" y1="215.3" x2="96.48" y2="231" stroke="#333" stroke-width="0.9"/>
<line x1="94.18" y1="215.3" x2="98.78" y2="215.3" stroke="#333" stroke-width="0.9"/>
<line x1="94.18" y1="231" x2="98.78" y2="231" stroke="#333" stroke-width="0.9"/>
<line x1="104.63" y1="217" x2="104.63" y2="234.5" stroke="#333" stroke-width="0.9"/>
<line x1="102.33" y1="217" x2="106.93" y2="217" stroke="#333" stroke-width="0.9"/>
<line x1="102.33" y1="234.5" x2="106.93" y2="234.5" stroke="#333" stroke-width="0.9"/>
<line x1="112.81" y1="217.2" x2="112.81" y2="234" stroke="#333" stroke-width="0.9"/>
<line x1="110.51" y1="217.2" x2="115.11" y2="217.2" stroke="#333" stroke-width="0.9"/>
<line x1="110.51" y1="234" x2="115.11" y2="234" stroke="#333" stroke-width="0.9"/>
<line x1="120.97" y1="218.4" x2="120.97" y2="233" stroke="#333" stroke-width="0.9"/>
<line x1="118.67" y1="218.4" x2="123.27" y2="218.4" stroke="#333" stroke-width="0.9"/>
<line x1="118.67" y1="233" x2="123.27" y2="233" stroke="#333" stroke-width="0.9"/>
<line x1="129.13" y1="215.1" x2="129.13" y2="233.8" stroke="#333" stroke-width="0.9"/>
<line x1="126.83" y1="215.1" x2="131.43" y2="215.1" stroke="#333" stroke-width="0.9"/>
<line x1="126.83" y1="233.8" x2="131.43" y2="233.8" stroke="#333" stroke-width="0.9"/>
<line x1="137.28" y1="216" x2="137.28" y2="235.1" stroke="#333" stroke-width="0.9"/>
<line x1="134.98" y1="216" x2="139.58" y2="216" stroke="#333" stroke-width="0.9"/>
<line x1="134.98" y1="235.1" x2="139.58" y2="235.1" stroke="#333" stroke-width="0.9"/>
<line x1="145.44" y1="216" x2="145.44" y2="236.4" stroke="#333" stroke-width="0.9"/>
<line x1="143.14" y1="216" x2="147.74" y2="216" stroke="#333" stroke-width="0.9"/>
<line x1="143.14" y1="236.4" x2="147.74" y2="236.4" stroke="#333" stroke-width="0.9"/>
<line x1="153.6" y1="217.3" x2="153.6" y2="239" stroke="#333" stroke-width="0.9"/>
<line x1="151.3" y1="217.3" x2="155.9" y2="217.3" stroke="#333" stroke-width="0.9"/>
<line x1="151.3" y1="239" x2="155.9" y2="239" stroke="#333" stroke-width="0.9"/>
<line x1="161.76" y1="214.7" x2="161.76" y2="250.3" stroke="#333" stroke-width="0.9"/>
<line x1="159.46" y1="214.7" x2="164.06" y2="214.7" stroke="#333" stroke-width="0.9"/>
<line x1="159.46" y1="250.3" x2="164.06" y2="250.3" stroke="#333" stroke-width="0.9"/>
<rect x="93.98" y="217" width="5" height="5" fill="#cdcdcd"/>
<rect x="102.13" y="215.5" width="5" height="5" fill="#cdcdcd"/>
<rect x="110.31" y="220.9" width="5" height="5" fill="#cdcdcd"/>
<rect x="118.47" y="221.5" width="5" height="5" fill="#cdcdcd"/>
<rect x="126.63" y="214.5" width="5" height="5" fill="#cdcdcd"/>
<rect x="134.78" y="218.7" width="5" height="5" fill="#cdcdcd"/>
<rect x="142.94" y="215.5" width="5" height="5" fill="#cdcdcd"/>
<rect x="151.1" y="219.6" width="5" height="5" fill="#cdcdcd"/>
<rect x="159.26" y="220.9" width="5" height="5" fill="#cdcdcd"/>
<circle cx="96.48" cy="221" r="2.3" fill="none" stroke="#888" stroke-width="0.8"/>
<circle cx="104.63" cy="221.5" r="2.3" fill="none" stroke="#888" stroke-width="0.8"/>
<circle cx="112.81" cy="222" r="2.3" fill="none" stroke="#888" stroke-width="0.8"/>
<circle cx="120.97" cy="222" r="2.3" fill="none" stroke="#888" stroke-width="0.8"/>
<circle cx="129.13" cy="221" r="2.3" fill="none" stroke="#888" stroke-width="0.8"/>
<circle cx="137.28" cy="222" r="2.3" fill="none" stroke="#888" stroke-width="0.8"/>
<circle cx="145.44" cy="222.1" r="2.3" fill="none" stroke="#888" stroke-width="0.8"/>
<circle cx="153.6" cy="222.1" r="2.3" fill="none" stroke="#888" stroke-width="0.8"/>
<circle cx="161.76" cy="219" r="2.3" fill="none" stroke="#888" stroke-width="0.8"/>
<circle cx="96.48" cy="226" r="2.5" fill="#9a9a9a"/>
<circle cx="104.63" cy="226.5" r="2.5" fill="#9a9a9a"/>
<circle cx="112.81" cy="225.5" r="2.5" fill="#9a9a9a"/>
<circle cx="120.97" cy="226" r="2.5" fill="#9a9a9a"/>
<circle cx="129.13" cy="226" r="2.5" fill="#9a9a9a"/>
<circle cx="137.28" cy="226.5" r="2.5" fill="#9a9a9a"/>
<circle cx="145.44" cy="226" r="2.5" fill="#9a9a9a"/>
<circle cx="153.6" cy="227" r="2.5" fill="#9a9a9a"/>
<circle cx="161.76" cy="228" r="2.5" fill="#9a9a9a"/>
<polygon points="96.48,222.71 99.47,225.7 96.48,228.69 93.49,225.7" fill="#555555"/>
<polygon points="104.63,221.51 107.62,224.5 104.63,227.49 101.64,224.5" fill="#555555"/>
<polygon points="112.81,223.01 115.8,226 112.81,228.99 109.82,226" fill="#555555"/>
<polygon points="120.97,223.01 123.96,226 120.97,228.99 117.98,226" fill="#555555"/>
<polygon points="129.13,223.91 132.12,226.9 129.13,229.89 126.14,226.9" fill="#555555"/>
<polygon points="137.28,223.91 140.27,226.9 137.28,229.89 134.29,226.9" fill="#555555"/>
<polygon points="145.44,225.61 148.43,228.6 145.44,231.59 142.45,228.6" fill="#555555"/>
<polygon points="153.6,226.51 156.59,229.5 153.6,232.49 150.61,229.5" fill="#555555"/>
<polygon points="161.76,226.01 164.75,229 161.76,231.99 158.77,229" fill="#555555"/>
<polygon points="96.48,222.5 99.48,217.25 93.48,217.25" fill="#6a6a6a"/>
<polygon points="104.63,232.5 107.63,227.25 101.63,227.25" fill="#6a6a6a"/>
<polygon points="112.81,232.5 115.81,227.25 109.81,227.25" fill="#6a6a6a"/>
<polygon points="120.97,232 123.97,226.75 117.97,226.75" fill="#6a6a6a"/>
<polygon points="129.13,232 132.13,226.75 126.13,226.75" fill="#6a6a6a"/>
<polygon points="137.28,232.5 140.28,227.25 134.28,227.25" fill="#6a6a6a"/>
<polygon points="145.44,233 148.44,227.75 142.44,227.75" fill="#6a6a6a"/>
<polygon points="153.6,235 156.6,229.75 150.6,229.75" fill="#6a6a6a"/>
<polygon points="161.76,242.9 164.76,237.65 158.76,237.65" fill="#6a6a6a"/>
<polygon points="96.48,222.9 98.98,227.28 93.98,227.28" fill="#000"/>
<polygon points="104.63,222.1 107.13,226.47 102.13,226.47" fill="#000"/>
<polygon points="112.81,229.95 116.06,235.64 109.56,235.64" fill="#000"/>
<polygon points="120.97,229.35 124.22,235.04 117.72,235.04" fill="#000"/>
<polygon points="129.13,240.15 132.38,245.84 125.88,245.84" fill="#000"/>
<polygon points="137.28,257.75 140.53,263.44 134.03,263.44" fill="#000"/>
<polygon points="145.44,280.75 148.69,286.44 142.19,286.44" fill="#000"/>
<polygon points="153.6,295.35 156.85,301.04 150.35,301.04" fill="#000"/>
<polygon points="161.76,304.75 165.01,310.44 158.51,310.44" fill="#000"/>
<line x1="145.44" y1="280" x2="145.44" y2="288" stroke="#000" stroke-width="0.8"/>
<line x1="143.24" y1="280" x2="147.64" y2="280" stroke="#000" stroke-width="0.8"/>
<line x1="143.24" y1="288" x2="147.64" y2="288" stroke="#000" stroke-width="0.8"/>
<rect x="42.6" y="221.4" width="5.2" height="5.2" fill="#d4d4d4"/>
<line x1="180.9" y1="240.4" x2="194.2" y2="240.4" stroke="#c8c8c8" stroke-width="1.2"/>
<rect x="184.9" y="237.8" width="5.2" height="5.2" fill="#c8c8c8"/>
<text x="198.6" y="243.4" font-size="8.4" textLength="23" lengthAdjust="spacingAndGlyphs">HL-60</text>
<line x1="180.9" y1="253.3" x2="194.2" y2="253.3" stroke="#555555" stroke-width="1.2"/>
<polygon points="187.5,249.92 190.88,253.3 187.5,256.68 184.12,253.3" fill="#555555"/>
<text x="198.6" y="256.3" font-size="8.4" textLength="21.4" lengthAdjust="spacingAndGlyphs">L-428</text>
<line x1="180.9" y1="266.2" x2="194.2" y2="266.2" stroke="#808080" stroke-width="1.2"/>
<circle cx="187.5" cy="266.2" r="2.4" fill="#fff" stroke="#808080" stroke-width="0.9"/>
<text x="198.6" y="269.2" font-size="8.4" textLength="26" lengthAdjust="spacingAndGlyphs">Karpas</text>
<line x1="180.9" y1="279.1" x2="194.2" y2="279.1" stroke="#000" stroke-width="1.2"/>
<polygon points="187.5,275.85 190.75,281.54 184.25,281.54" fill="#000"/>
<text x="198.6" y="282.1" font-size="8.4" textLength="22" lengthAdjust="spacingAndGlyphs">U-937</text>
<line x1="180.9" y1="292" x2="194.2" y2="292" stroke="#9a9a9a" stroke-width="1.2"/>
<circle cx="187.5" cy="292" r="2.6" fill="#9a9a9a"/>
<text x="198.6" y="295" font-size="8.4" textLength="22" lengthAdjust="spacingAndGlyphs">K-562</text>
<line x1="180.9" y1="304.9" x2="194.2" y2="304.9" stroke="#6a6a6a" stroke-width="1.2"/>
<polygon points="187.5,308.15 190.75,302.46 184.25,302.46" fill="#6a6a6a"/>
<text x="198.6" y="307.9" font-size="8.4" textLength="23.5" lengthAdjust="spacingAndGlyphs">KG-1a</text>
<line x1="297.4" y1="207.5" x2="297.4" y2="316.2" stroke="#000" stroke-width="1.2"/>
<line x1="294.2" y1="315.6" x2="297.4" y2="315.6" stroke="#000" stroke-width="1"/>
<line x1="295.8" y1="307.94" x2="297.4" y2="307.94" stroke="#000" stroke-width="0.85"/>
<line x1="295.8" y1="303.45" x2="297.4" y2="303.45" stroke="#000" stroke-width="0.85"/>
<line x1="295.8" y1="300.27" x2="297.4" y2="300.27" stroke="#000" stroke-width="0.85"/>
<line x1="295.8" y1="297.8" x2="297.4" y2="297.8" stroke="#000" stroke-width="0.85"/>
<line x1="295.8" y1="295.79" x2="297.4" y2="295.79" stroke="#000" stroke-width="0.85"/>
<line x1="295.8" y1="294.08" x2="297.4" y2="294.08" stroke="#000" stroke-width="0.85"/>
<line x1="295.8" y1="292.61" x2="297.4" y2="292.61" stroke="#000" stroke-width="0.85"/>
<line x1="295.8" y1="291.3" x2="297.4" y2="291.3" stroke="#000" stroke-width="0.85"/>
<line x1="294.2" y1="290.14" x2="297.4" y2="290.14" stroke="#000" stroke-width="1"/>
<line x1="295.8" y1="282.48" x2="297.4" y2="282.48" stroke="#000" stroke-width="0.85"/>
<line x1="295.8" y1="277.99" x2="297.4" y2="277.99" stroke="#000" stroke-width="0.85"/>
<line x1="295.8" y1="274.81" x2="297.4" y2="274.81" stroke="#000" stroke-width="0.85"/>
<line x1="295.8" y1="272.34" x2="297.4" y2="272.34" stroke="#000" stroke-width="0.85"/>
<line x1="295.8" y1="270.33" x2="297.4" y2="270.33" stroke="#000" stroke-width="0.85"/>
<line x1="295.8" y1="268.62" x2="297.4" y2="268.62" stroke="#000" stroke-width="0.85"/>
<line x1="295.8" y1="267.15" x2="297.4" y2="267.15" stroke="#000" stroke-width="0.85"/>
<line x1="295.8" y1="265.84" x2="297.4" y2="265.84" stroke="#000" stroke-width="0.85"/>
<line x1="294.2" y1="264.68" x2="297.4" y2="264.68" stroke="#000" stroke-width="1"/>
<line x1="295.8" y1="257.02" x2="297.4" y2="257.02" stroke="#000" stroke-width="0.85"/>
<line x1="295.8" y1="252.53" x2="297.4" y2="252.53" stroke="#000" stroke-width="0.85"/>
<line x1="295.8" y1="249.35" x2="297.4" y2="249.35" stroke="#000" stroke-width="0.85"/>
<line x1="295.8" y1="246.88" x2="297.4" y2="246.88" stroke="#000" stroke-width="0.85"/>
<line x1="295.8" y1="244.87" x2="297.4" y2="244.87" stroke="#000" stroke-width="0.85"/>
<line x1="295.8" y1="243.16" x2="297.4" y2="243.16" stroke="#000" stroke-width="0.85"/>
<line x1="295.8" y1="241.69" x2="297.4" y2="241.69" stroke="#000" stroke-width="0.85"/>
<line x1="295.8" y1="240.38" x2="297.4" y2="240.38" stroke="#000" stroke-width="0.85"/>
<line x1="294.2" y1="239.22" x2="297.4" y2="239.22" stroke="#000" stroke-width="1"/>
<line x1="295.8" y1="231.56" x2="297.4" y2="231.56" stroke="#000" stroke-width="0.85"/>
<line x1="295.8" y1="227.07" x2="297.4" y2="227.07" stroke="#000" stroke-width="0.85"/>
<line x1="295.8" y1="223.89" x2="297.4" y2="223.89" stroke="#000" stroke-width="0.85"/>
<line x1="295.8" y1="221.42" x2="297.4" y2="221.42" stroke="#000" stroke-width="0.85"/>
<line x1="295.8" y1="219.41" x2="297.4" y2="219.41" stroke="#000" stroke-width="0.85"/>
<line x1="295.8" y1="217.7" x2="297.4" y2="217.7" stroke="#000" stroke-width="0.85"/>
<line x1="295.8" y1="216.23" x2="297.4" y2="216.23" stroke="#000" stroke-width="0.85"/>
<line x1="295.8" y1="214.92" x2="297.4" y2="214.92" stroke="#000" stroke-width="0.85"/>
<line x1="294.2" y1="213.76" x2="297.4" y2="213.76" stroke="#000" stroke-width="1"/>
<line x1="294.6" y1="315.6" x2="437.5" y2="315.6" stroke="#000" stroke-width="1.2"/>
<line x1="324.2" y1="315.6" x2="324.2" y2="318.8" stroke="#000" stroke-width="1"/>
<line x1="378.8" y1="315.6" x2="378.8" y2="318.8" stroke="#000" stroke-width="1"/>
<line x1="433.4" y1="315.6" x2="433.4" y2="318.8" stroke="#000" stroke-width="1"/>
<line x1="302.47" y1="315.6" x2="302.47" y2="317.4" stroke="#000" stroke-width="0.85"/>
<line x1="307.76" y1="315.6" x2="307.76" y2="317.4" stroke="#000" stroke-width="0.85"/>
<line x1="312.09" y1="315.6" x2="312.09" y2="317.4" stroke="#000" stroke-width="0.85"/>
<line x1="315.74" y1="315.6" x2="315.74" y2="317.4" stroke="#000" stroke-width="0.85"/>
<line x1="318.91" y1="315.6" x2="318.91" y2="317.4" stroke="#000" stroke-width="0.85"/>
<line x1="321.7" y1="315.6" x2="321.7" y2="317.4" stroke="#000" stroke-width="0.85"/>
<line x1="340.64" y1="315.6" x2="340.64" y2="317.4" stroke="#000" stroke-width="0.85"/>
<line x1="350.25" y1="315.6" x2="350.25" y2="317.4" stroke="#000" stroke-width="0.85"/>
<line x1="357.07" y1="315.6" x2="357.07" y2="317.4" stroke="#000" stroke-width="0.85"/>
<line x1="362.36" y1="315.6" x2="362.36" y2="317.4" stroke="#000" stroke-width="0.85"/>
<line x1="366.69" y1="315.6" x2="366.69" y2="317.4" stroke="#000" stroke-width="0.85"/>
<line x1="370.34" y1="315.6" x2="370.34" y2="317.4" stroke="#000" stroke-width="0.85"/>
<line x1="373.51" y1="315.6" x2="373.51" y2="317.4" stroke="#000" stroke-width="0.85"/>
<line x1="376.3" y1="315.6" x2="376.3" y2="317.4" stroke="#000" stroke-width="0.85"/>
<line x1="395.24" y1="315.6" x2="395.24" y2="317.4" stroke="#000" stroke-width="0.85"/>
<line x1="404.85" y1="315.6" x2="404.85" y2="317.4" stroke="#000" stroke-width="0.85"/>
<line x1="411.67" y1="315.6" x2="411.67" y2="317.4" stroke="#000" stroke-width="0.85"/>
<line x1="416.96" y1="315.6" x2="416.96" y2="317.4" stroke="#000" stroke-width="0.85"/>
<line x1="421.29" y1="315.6" x2="421.29" y2="317.4" stroke="#000" stroke-width="0.85"/>
<line x1="424.94" y1="315.6" x2="424.94" y2="317.4" stroke="#000" stroke-width="0.85"/>
<line x1="428.11" y1="315.6" x2="428.11" y2="317.4" stroke="#000" stroke-width="0.85"/>
<line x1="430.9" y1="315.6" x2="430.9" y2="317.4" stroke="#000" stroke-width="0.85"/>
<text x="290.6" y="216.46" font-size="9" class="ti" textLength="24.2" lengthAdjust="spacingAndGlyphs" text-anchor="end">10000</text>
<text x="290.6" y="241.92" font-size="9" class="ti" textLength="19.36" lengthAdjust="spacingAndGlyphs" text-anchor="end">1000</text>
<text x="290.6" y="267.38" font-size="9" class="ti" textLength="14.52" lengthAdjust="spacingAndGlyphs" text-anchor="end">100</text>
<text x="290.6" y="292.84" font-size="9" class="ti" textLength="9.68" lengthAdjust="spacingAndGlyphs" text-anchor="end">10</text>
<text x="290.6" y="318.3" font-size="9" class="ti" textLength="4.84" lengthAdjust="spacingAndGlyphs" text-anchor="end">1</text>
<text x="324.5" y="329.7" font-size="9" class="ti" textLength="14.52" lengthAdjust="spacingAndGlyphs" text-anchor="middle">100</text>
<text x="379.1" y="329.7" font-size="9" class="ti" textLength="19.36" lengthAdjust="spacingAndGlyphs" text-anchor="middle">1000</text>
<text x="433.7" y="329.7" font-size="9" class="ti" textLength="24.2" lengthAdjust="spacingAndGlyphs" text-anchor="middle">10000</text>
<text transform="translate(258.4 261.2) rotate(-90)" font-size="10" class="t" textLength="60.6" lengthAdjust="spacingAndGlyphs" text-anchor="middle">IC50 20D9-ADC</text>
<text x="307.4" y="345.9" font-size="10.6" class="t" textLength="120.6" lengthAdjust="spacingAndGlyphs">Sum of specific MFI of FLT3 and</text>
<text x="340.2" y="358.5" font-size="10.6" class="t" textLength="54.7" lengthAdjust="spacingAndGlyphs">CD64 staining</text>
<polyline points="324.2,223.8 335,231.5 348,242 365.4,254.6 390,268 414.6,279.2 425,284" fill="none" stroke="#2a2a2a" stroke-width="1.3" stroke-linejoin="round" stroke-dasharray="0.01,1.9" stroke-linecap="round"/>
<polyline points="324.2,270.8 340,273.5 350.4,276.2 365,279.5 377.7,284.6 400,296 425.4,309.2" fill="none" stroke="#2a2a2a" stroke-width="1.3" stroke-linejoin="round" stroke-dasharray="0.01,1.9" stroke-linecap="round"/>
<line x1="325" y1="248" x2="429" y2="296.6" stroke="#000" stroke-width="1.3"/>
<circle cx="348.8" cy="236.9" r="2.5" fill="#000"/>
<circle cx="352.7" cy="251.5" r="2.5" fill="#000"/>
<circle cx="325.3" cy="263.8" r="2.5" fill="#000"/>
<circle cx="383.5" cy="280.5" r="2.5" fill="#000"/>
<circle cx="393.8" cy="286.9" r="2.5" fill="#000"/>
<circle cx="382.6" cy="293.8" r="2.5" fill="#000"/>
<circle cx="408.9" cy="267.7" r="2.5" fill="#000"/>
<circle cx="415.3" cy="279.7" r="2.5" fill="#000"/>
<circle cx="421" cy="300" r="2.5" fill="#000"/>
<circle cx="428.8" cy="292" r="2.5" fill="#000"/>
<circle cx="422.5" cy="312.8" r="2.5" fill="#000"/>
<text x="354.4" y="239.9" font-size="9.4" textLength="41.2" lengthAdjust="spacingAndGlyphs">OCI-AML5</text>
<text x="356.6" y="254.3" font-size="9.4" textLength="23.4" lengthAdjust="spacingAndGlyphs">U-937</text>
<text x="300.4" y="260.1" font-size="9.4" textLength="27.6" lengthAdjust="spacingAndGlyphs">Kasumi</text>
<text x="340.4" y="283.6" font-size="9.4" textLength="38.8" lengthAdjust="spacingAndGlyphs">MOLM-13</text>
<text x="358.3" y="296.3" font-size="9.4" textLength="20.2" lengthAdjust="spacingAndGlyphs">PL-21</text>
<text x="386.9" y="297.1" font-size="9.4" textLength="28.5" lengthAdjust="spacingAndGlyphs">MV4-11</text>
<text x="414.1" y="268.9" font-size="9.4" textLength="35.2" lengthAdjust="spacingAndGlyphs">NOMO-1</text>
<text x="419.6" y="280.7" font-size="9.4" textLength="41.4" lengthAdjust="spacingAndGlyphs">OCI-AML3</text>
<text x="435.8" y="295.3" font-size="9.4" textLength="24" lengthAdjust="spacingAndGlyphs">MM-6</text>
<text x="426" y="305.1" font-size="9.4" textLength="22" lengthAdjust="spacingAndGlyphs">THP-1</text>
<text x="427.7" y="313.7" font-size="9.4" textLength="22" lengthAdjust="spacingAndGlyphs">MM-1</text>
<text x="410.6" y="221.2" font-size="8.6" textLength="29.8" lengthAdjust="spacingAndGlyphs">r=–0.74</text>
<text x="410.6" y="231.4" font-size="8.6" textLength="28.6" lengthAdjust="spacingAndGlyphs">r<tspan font-size="6.2" dy="-3.3">2</tspan><tspan dy="3.3">=0.56</tspan></text>
<text x="411" y="242.7" font-size="8.6" textLength="37.2" lengthAdjust="spacingAndGlyphs"><tspan font-style="italic">P</tspan> = 0.008</text>
<line x1="43.8" y1="395" x2="43.8" y2="495.2" stroke="#3a3a3a" stroke-width="1.5"/>
<line x1="40.6" y1="401.5" x2="43.8" y2="401.5" stroke="#000" stroke-width="1"/>
<line x1="40.6" y1="448.05" x2="43.8" y2="448.05" stroke="#000" stroke-width="1"/>
<line x1="40.6" y1="494.6" x2="184" y2="494.6" stroke="#000" stroke-width="1.2"/>
<line x1="43.8" y1="494.6" x2="43.8" y2="497.8" stroke="#000" stroke-width="1"/>
<line x1="51.93" y1="494.6" x2="51.93" y2="496.4" stroke="#000" stroke-width="0.85"/>
<line x1="56.68" y1="494.6" x2="56.68" y2="496.4" stroke="#000" stroke-width="0.85"/>
<line x1="60.06" y1="494.6" x2="60.06" y2="496.4" stroke="#000" stroke-width="0.85"/>
<line x1="62.67" y1="494.6" x2="62.67" y2="496.4" stroke="#000" stroke-width="0.85"/>
<line x1="64.81" y1="494.6" x2="64.81" y2="496.4" stroke="#000" stroke-width="0.85"/>
<line x1="66.62" y1="494.6" x2="66.62" y2="496.4" stroke="#000" stroke-width="0.85"/>
<line x1="68.18" y1="494.6" x2="68.18" y2="496.4" stroke="#000" stroke-width="0.85"/>
<line x1="69.56" y1="494.6" x2="69.56" y2="496.4" stroke="#000" stroke-width="0.85"/>
<line x1="70.8" y1="494.6" x2="70.8" y2="497.8" stroke="#000" stroke-width="1"/>
<line x1="78.93" y1="494.6" x2="78.93" y2="496.4" stroke="#000" stroke-width="0.85"/>
<line x1="83.68" y1="494.6" x2="83.68" y2="496.4" stroke="#000" stroke-width="0.85"/>
<line x1="87.06" y1="494.6" x2="87.06" y2="496.4" stroke="#000" stroke-width="0.85"/>
<line x1="89.67" y1="494.6" x2="89.67" y2="496.4" stroke="#000" stroke-width="0.85"/>
<line x1="91.81" y1="494.6" x2="91.81" y2="496.4" stroke="#000" stroke-width="0.85"/>
<line x1="93.62" y1="494.6" x2="93.62" y2="496.4" stroke="#000" stroke-width="0.85"/>
<line x1="95.18" y1="494.6" x2="95.18" y2="496.4" stroke="#000" stroke-width="0.85"/>
<line x1="96.56" y1="494.6" x2="96.56" y2="496.4" stroke="#000" stroke-width="0.85"/>
<line x1="97.8" y1="494.6" x2="97.8" y2="497.8" stroke="#000" stroke-width="1"/>
<line x1="105.93" y1="494.6" x2="105.93" y2="496.4" stroke="#000" stroke-width="0.85"/>
<line x1="110.68" y1="494.6" x2="110.68" y2="496.4" stroke="#000" stroke-width="0.85"/>
<line x1="114.06" y1="494.6" x2="114.06" y2="496.4" stroke="#000" stroke-width="0.85"/>
<line x1="116.67" y1="494.6" x2="116.67" y2="496.4" stroke="#000" stroke-width="0.85"/>
<line x1="118.81" y1="494.6" x2="118.81" y2="496.4" stroke="#000" stroke-width="0.85"/>
<line x1="120.62" y1="494.6" x2="120.62" y2="496.4" stroke="#000" stroke-width="0.85"/>
<line x1="122.18" y1="494.6" x2="122.18" y2="496.4" stroke="#000" stroke-width="0.85"/>
<line x1="123.56" y1="494.6" x2="123.56" y2="496.4" stroke="#000" stroke-width="0.85"/>
<line x1="124.8" y1="494.6" x2="124.8" y2="497.8" stroke="#000" stroke-width="1"/>
<line x1="132.93" y1="494.6" x2="132.93" y2="496.4" stroke="#000" stroke-width="0.85"/>
<line x1="137.68" y1="494.6" x2="137.68" y2="496.4" stroke="#000" stroke-width="0.85"/>
<line x1="141.06" y1="494.6" x2="141.06" y2="496.4" stroke="#000" stroke-width="0.85"/>
<line x1="143.67" y1="494.6" x2="143.67" y2="496.4" stroke="#000" stroke-width="0.85"/>
<line x1="145.81" y1="494.6" x2="145.81" y2="496.4" stroke="#000" stroke-width="0.85"/>
<line x1="147.62" y1="494.6" x2="147.62" y2="496.4" stroke="#000" stroke-width="0.85"/>
<line x1="149.18" y1="494.6" x2="149.18" y2="496.4" stroke="#000" stroke-width="0.85"/>
<line x1="150.56" y1="494.6" x2="150.56" y2="496.4" stroke="#000" stroke-width="0.85"/>
<line x1="151.8" y1="494.6" x2="151.8" y2="497.8" stroke="#000" stroke-width="1"/>
<line x1="159.93" y1="494.6" x2="159.93" y2="496.4" stroke="#000" stroke-width="0.85"/>
<line x1="164.68" y1="494.6" x2="164.68" y2="496.4" stroke="#000" stroke-width="0.85"/>
<line x1="168.06" y1="494.6" x2="168.06" y2="496.4" stroke="#000" stroke-width="0.85"/>
<line x1="170.67" y1="494.6" x2="170.67" y2="496.4" stroke="#000" stroke-width="0.85"/>
<line x1="172.81" y1="494.6" x2="172.81" y2="496.4" stroke="#000" stroke-width="0.85"/>
<line x1="174.62" y1="494.6" x2="174.62" y2="496.4" stroke="#000" stroke-width="0.85"/>
<line x1="176.18" y1="494.6" x2="176.18" y2="496.4" stroke="#000" stroke-width="0.85"/>
<line x1="177.56" y1="494.6" x2="177.56" y2="496.4" stroke="#000" stroke-width="0.85"/>
<line x1="178.8" y1="494.6" x2="178.8" y2="497.8" stroke="#000" stroke-width="1"/>
<text x="37.2" y="404.2" font-size="9" class="ti" textLength="14.52" lengthAdjust="spacingAndGlyphs" text-anchor="end">100</text>
<text x="37.2" y="450.75" font-size="9" class="ti" textLength="9.68" lengthAdjust="spacingAndGlyphs" text-anchor="end">50</text>
<text x="37.2" y="497.3" font-size="9" class="ti" textLength="4.84" lengthAdjust="spacingAndGlyphs" text-anchor="end">0</text>
<text x="43.8" y="510.9" font-size="9" class="ti" textLength="12.48" lengthAdjust="spacingAndGlyphs" text-anchor="middle">0.1</text>
<text x="70.8" y="510.9" font-size="9" class="ti" textLength="4.84" lengthAdjust="spacingAndGlyphs" text-anchor="middle">1</text>
<text x="97.8" y="510.9" font-size="9" class="ti" textLength="9.68" lengthAdjust="spacingAndGlyphs" text-anchor="middle">10</text>
<text x="124.8" y="510.9" font-size="9" class="ti" textLength="14.52" lengthAdjust="spacingAndGlyphs" text-anchor="middle">100</text>
<text x="151.8" y="510.9" font-size="9" class="ti" textLength="19.36" lengthAdjust="spacingAndGlyphs" text-anchor="middle">1000</text>
<text x="178.8" y="510.9" font-size="9" class="ti" textLength="24.2" lengthAdjust="spacingAndGlyphs" text-anchor="middle">10000</text>
<text x="78.8" y="526.5" font-size="10.4" class="t" textLength="70.8" lengthAdjust="spacingAndGlyphs">IgG1-ADC [ng/mL]</text>
<text transform="translate(15 444.6) rotate(-90)" font-size="10.3" class="t" textLength="96.7" lengthAdjust="spacingAndGlyphs" text-anchor="middle">Viability (% to untreated)</text>
<line x1="125.2" y1="396" x2="125.2" y2="494" stroke="#000" stroke-width="1" stroke-dasharray="3,2.2"/>
<polyline points="43.8,401.56 45.25,401.57 46.7,401.58 48.15,401.6 49.61,401.62 51.06,401.64 52.51,401.66 53.96,401.7 55.41,401.73 56.86,401.78 58.32,401.83 59.77,401.89 61.22,401.96 62.67,402.05 64.12,402.15 65.57,402.28 67.03,402.42 68.48,402.6 69.93,402.8 71.38,403.04 72.83,403.33 74.28,403.66 75.74,404.06 77.19,404.53 78.64,405.08 80.09,405.72 81.54,406.47 82.99,407.34 84.44,408.36 85.9,409.53 87.35,410.88 88.8,412.43 90.25,414.18 91.7,416.16 93.15,418.38 94.61,420.83 96.06,423.53 97.51,426.46 98.96,429.59 100.41,432.92 101.86,436.39 103.32,439.96 104.77,443.58 106.22,447.2 107.67,450.77 109.12,454.22 110.57,457.53 112.03,460.65 113.48,463.55 114.93,466.22 116.38,468.65 117.83,470.84 119.28,472.8 120.73,474.53 122.19,476.06 123.64,477.39 125.09,478.54 126.54,479.54 127.99,480.4 129.44,481.14 130.9,481.78 132.35,482.31 133.8,482.77 135.25,483.16 136.7,483.5 138.15,483.78 139.61,484.01 141.06,484.21 142.51,484.38 143.96,484.53 145.41,484.65 146.86,484.75 148.32,484.83 149.77,484.91 151.22,484.97 152.67,485.02 154.12,485.06 155.57,485.1 157.02,485.13 158.48,485.15 159.93,485.18" fill="none" stroke="#7fb0e0" stroke-width="1.3" stroke-linejoin="round"/>
<polyline points="43.8,401.57 45.25,401.58 46.7,401.6 48.15,401.62 49.61,401.65 51.06,401.68 52.51,401.71 53.96,401.75 55.41,401.81 56.86,401.87 58.32,401.94 59.77,402.03 61.22,402.14 62.67,402.27 64.12,402.42 65.57,402.61 67.03,402.83 68.48,403.1 69.93,403.42 71.38,403.8 72.83,404.26 74.28,404.8 75.74,405.45 77.19,406.21 78.64,407.11 80.09,408.18 81.54,409.42 82.99,410.87 84.44,412.55 85.9,414.48 87.35,416.69 88.8,419.19 90.25,421.99 91.7,425.09 93.15,428.48 94.61,432.14 96.06,436.02 97.51,440.09 98.96,444.27 100.41,448.5 101.86,452.71 103.32,456.82 104.77,460.78 106.22,464.52 107.67,468.01 109.12,471.21 110.57,474.11 112.03,476.71 113.48,479.02 114.93,481.05 116.38,482.81 117.83,484.34 119.28,485.65 120.73,486.78 122.19,487.73 123.64,488.54 125.09,489.22 126.54,489.8 127.99,490.28 129.44,490.69 130.9,491.03 132.35,491.32 133.8,491.55 135.25,491.75 136.7,491.92 138.15,492.06 139.61,492.17 141.06,492.27 142.51,492.35 143.96,492.41 145.41,492.47 146.86,492.51 148.32,492.55 149.77,492.58 151.22,492.61 152.67,492.63 154.12,492.65 155.57,492.66 157.02,492.68 158.48,492.69 159.93,492.7" fill="none" stroke="#3a88c8" stroke-width="1.3" stroke-linejoin="round"/>
<polyline points="43.8,401.5 45.25,401.5 46.7,401.51 48.15,401.51 49.61,401.51 51.06,401.51 52.51,401.51 53.96,401.51 55.41,401.52 56.86,401.52 58.32,401.52 59.77,401.53 61.22,401.53 62.67,401.54 64.12,401.55 65.57,401.56 67.03,401.57 68.48,401.58 69.93,401.59 71.38,401.61 72.83,401.63 74.28,401.66 75.74,401.69 77.19,401.72 78.64,401.76 80.09,401.81 81.54,401.87 82.99,401.94 84.44,402.02 85.9,402.12 87.35,402.24 88.8,402.37 90.25,402.54 91.7,402.73 93.15,402.96 94.61,403.23 96.06,403.55 97.51,403.92 98.96,404.37 100.41,404.89 101.86,405.5 103.32,406.21 104.77,407.04 106.22,408.01 107.67,409.13 109.12,410.42 110.57,411.9 112.03,413.59 113.48,415.49 114.93,417.63 116.38,420.01 117.83,422.63 119.28,425.48 120.73,428.55 122.19,431.82 123.64,435.25 125.09,438.79 126.54,442.4 127.99,446.03 129.44,449.62 130.9,453.11 132.35,456.47 133.8,459.66 135.25,462.63 136.7,465.38 138.15,467.89 139.61,470.16 141.06,472.19 142.51,473.99 143.96,475.58 145.41,476.97 146.86,478.19 148.32,479.23 149.77,480.14 151.22,480.92 152.67,481.58 154.12,482.15 155.57,482.63 157.02,483.04 158.48,483.39 159.93,483.69" fill="none" stroke="#17a0aa" stroke-width="1.3" stroke-linejoin="round"/>
<polyline points="43.8,401.5 45.25,401.5 46.7,401.5 48.15,401.5 49.61,401.5 51.06,401.5 52.51,401.5 53.96,401.5 55.41,401.5 56.86,401.5 58.32,401.5 59.77,401.5 61.22,401.5 62.67,401.5 64.12,401.5 65.57,401.5 67.03,401.5 68.48,401.5 69.93,401.5 71.38,401.5 72.83,401.5 74.28,401.5 75.74,401.5 77.19,401.5 78.64,401.5 80.09,401.51 81.54,401.51 82.99,401.51 84.44,401.51 85.9,401.52 87.35,401.52 88.8,401.53 90.25,401.54 91.7,401.55 93.15,401.56 94.61,401.58 96.06,401.61 97.51,401.64 98.96,401.68 100.41,401.74 101.86,401.81 103.32,401.91 104.77,402.04 106.22,402.21 107.67,402.43 109.12,402.72 110.57,403.09 112.03,403.57 113.48,404.2 114.93,405.02 116.38,406.06 117.83,407.4 119.28,409.09 120.73,411.21 122.19,413.84 123.64,417.03 125.09,420.85 126.54,425.32 127.99,430.39 129.44,435.98 130.9,441.94 132.35,448.07 133.8,454.15 135.25,459.96 136.7,465.32 138.15,470.12 139.61,474.29 141.06,477.82 142.51,480.75 143.96,483.13 145.41,485.04 146.86,486.56 148.32,487.76 149.77,488.69 151.22,489.41 152.67,489.97 154.12,490.4 155.57,490.73 157.02,490.99 158.48,491.18 159.93,491.33" fill="none" stroke="#0c4a58" stroke-width="1.3" stroke-linejoin="round"/>
<rect x="92.39" y="420.5" width="5" height="5" fill="#7fb0e0"/>
<rect x="100.51" y="439.4" width="5" height="5" fill="#7fb0e0"/>
<rect x="108.66" y="457.5" width="5" height="5" fill="#7fb0e0"/>
<rect x="116.79" y="469.5" width="5" height="5" fill="#7fb0e0"/>
<rect x="124.92" y="476.7" width="5" height="5" fill="#7fb0e0"/>
<rect x="133.04" y="479.3" width="5" height="5" fill="#7fb0e0"/>
<rect x="141.17" y="480.9" width="5" height="5" fill="#7fb0e0"/>
<rect x="149.3" y="482.9" width="5" height="5" fill="#7fb0e0"/>
<rect x="157.43" y="482.1" width="5" height="5" fill="#7fb0e0"/>
<polygon points="94.89,428.77 98.01,434.24 91.76,434.24" fill="#3a88c8"/>
<polygon points="103.01,451.48 106.14,456.94 99.89,456.94" fill="#3a88c8"/>
<polygon points="111.16,471.07 114.29,476.54 108.04,476.54" fill="#3a88c8"/>
<polygon points="119.29,479.18 122.41,484.64 116.16,484.64" fill="#3a88c8"/>
<polygon points="127.42,483.07 130.54,488.54 124.29,488.54" fill="#3a88c8"/>
<polygon points="135.54,486.88 138.67,492.34 132.42,492.34" fill="#3a88c8"/>
<polygon points="143.67,487.68 146.8,493.14 140.55,493.14" fill="#3a88c8"/>
<polygon points="151.8,489.18 154.93,494.64 148.68,494.64" fill="#3a88c8"/>
<polygon points="159.93,489.48 163.05,494.94 156.8,494.94" fill="#3a88c8"/>
<polygon points="94.89,405.25 98.14,408.5 94.89,411.75 91.64,408.5" fill="#17a0aa"/>
<polygon points="103.01,407.15 106.26,410.4 103.01,413.65 99.76,410.4" fill="#17a0aa"/>
<polygon points="111.16,411.45 114.41,414.7 111.16,417.95 107.91,414.7" fill="#17a0aa"/>
<polygon points="119.29,424.85 122.54,428.1 119.29,431.35 116.04,428.1" fill="#17a0aa"/>
<polygon points="127.42,442.25 130.67,445.5 127.42,448.75 124.17,445.5" fill="#17a0aa"/>
<polygon points="135.54,456.75 138.79,460 135.54,463.25 132.29,460" fill="#17a0aa"/>
<polygon points="143.67,469.05 146.92,472.3 143.67,475.55 140.42,472.3" fill="#17a0aa"/>
<polygon points="151.8,475.55 155.05,478.8 151.8,482.05 148.55,478.8" fill="#17a0aa"/>
<polygon points="159.93,480.15 163.18,483.4 159.93,486.65 156.68,483.4" fill="#17a0aa"/>
<circle cx="94.89" cy="399.6" r="2.5" fill="#0c4a58"/>
<circle cx="103.01" cy="398.8" r="2.5" fill="#0c4a58"/>
<circle cx="111.16" cy="401.9" r="2.5" fill="#0c4a58"/>
<circle cx="119.29" cy="404.5" r="2.5" fill="#0c4a58"/>
<circle cx="127.42" cy="429.6" r="2.5" fill="#0c4a58"/>
<circle cx="135.54" cy="461.5" r="2.5" fill="#0c4a58"/>
<circle cx="143.67" cy="474.2" r="2.5" fill="#0c4a58"/>
<circle cx="151.8" cy="486" r="2.5" fill="#0c4a58"/>
<circle cx="159.93" cy="489.5" r="2.5" fill="#0c4a58"/>
<line x1="94.89" y1="416.9" x2="94.89" y2="428" stroke="#222" stroke-width="0.8"/>
<line x1="92.69" y1="416.9" x2="97.09" y2="416.9" stroke="#222" stroke-width="0.8"/>
<line x1="92.69" y1="428" x2="97.09" y2="428" stroke="#222" stroke-width="0.8"/>
<line x1="103.01" y1="433.8" x2="103.01" y2="448" stroke="#222" stroke-width="0.8"/>
<line x1="100.81" y1="433.8" x2="105.21" y2="433.8" stroke="#222" stroke-width="0.8"/>
<line x1="100.81" y1="448" x2="105.21" y2="448" stroke="#222" stroke-width="0.8"/>
<line x1="111.16" y1="452.3" x2="111.16" y2="469.2" stroke="#222" stroke-width="0.8"/>
<line x1="108.96" y1="452.3" x2="113.36" y2="452.3" stroke="#222" stroke-width="0.8"/>
<line x1="108.96" y1="469.2" x2="113.36" y2="469.2" stroke="#222" stroke-width="0.8"/>
<line x1="119.29" y1="465" x2="119.29" y2="478" stroke="#222" stroke-width="0.8"/>
<line x1="117.09" y1="465" x2="121.49" y2="465" stroke="#222" stroke-width="0.8"/>
<line x1="117.09" y1="478" x2="121.49" y2="478" stroke="#222" stroke-width="0.8"/>
<line x1="94.89" y1="404.6" x2="94.89" y2="411.5" stroke="#222" stroke-width="0.8"/>
<line x1="92.69" y1="404.6" x2="97.09" y2="404.6" stroke="#222" stroke-width="0.8"/>
<line x1="92.69" y1="411.5" x2="97.09" y2="411.5" stroke="#222" stroke-width="0.8"/>
<line x1="119.29" y1="396.3" x2="119.29" y2="413" stroke="#222" stroke-width="0.8"/>
<line x1="117.09" y1="396.3" x2="121.49" y2="396.3" stroke="#222" stroke-width="0.8"/>
<line x1="117.09" y1="413" x2="121.49" y2="413" stroke="#222" stroke-width="0.8"/>
<line x1="127.42" y1="419.6" x2="127.42" y2="439.6" stroke="#222" stroke-width="0.8"/>
<line x1="125.22" y1="419.6" x2="129.62" y2="419.6" stroke="#222" stroke-width="0.8"/>
<line x1="125.22" y1="439.6" x2="129.62" y2="439.6" stroke="#222" stroke-width="0.8"/>
<line x1="111.16" y1="398.5" x2="111.16" y2="404" stroke="#222" stroke-width="0.8"/>
<line x1="108.96" y1="398.5" x2="113.36" y2="398.5" stroke="#222" stroke-width="0.8"/>
<line x1="108.96" y1="404" x2="113.36" y2="404" stroke="#222" stroke-width="0.8"/>
<line x1="135.54" y1="452.5" x2="135.54" y2="468" stroke="#222" stroke-width="0.8"/>
<line x1="133.34" y1="452.5" x2="137.74" y2="452.5" stroke="#222" stroke-width="0.8"/>
<line x1="133.34" y1="468" x2="137.74" y2="468" stroke="#222" stroke-width="0.8"/>
<line x1="160" y1="397" x2="173.1" y2="397" stroke="#7fb0e0" stroke-width="1.2"/>
<rect x="163.9" y="394.4" width="5.2" height="5.2" fill="#7fb0e0"/>
<text x="177.7" y="400" font-size="8.4" textLength="22.3" lengthAdjust="spacingAndGlyphs">THP-1</text>
<line x1="160" y1="408.27" x2="173.1" y2="408.27" stroke="#3a88c8" stroke-width="1.2"/>
<polygon points="166.5,405.02 169.75,410.71 163.25,410.71" fill="#3a88c8"/>
<text x="177.7" y="411.27" font-size="8.4" textLength="21.5" lengthAdjust="spacingAndGlyphs">MM-1</text>
<line x1="160" y1="419.54" x2="173.1" y2="419.54" stroke="#17a0aa" stroke-width="1.2"/>
<polygon points="166.5,416.16 169.88,419.54 166.5,422.92 163.12,419.54" fill="#17a0aa"/>
<text x="177.7" y="422.54" font-size="8.4" textLength="29.5" lengthAdjust="spacingAndGlyphs">MV4-11</text>
<line x1="160" y1="430.81" x2="173.1" y2="430.81" stroke="#0c4a58" stroke-width="1.2"/>
<circle cx="166.5" cy="430.81" r="2.6" fill="#0c4a58"/>
<text x="177.7" y="433.81" font-size="8.4" textLength="39.2" lengthAdjust="spacingAndGlyphs">MOLM-13</text>
<line x1="286.9" y1="395.6" x2="286.9" y2="495" stroke="#3a3a3a" stroke-width="1.5"/>
<line x1="283.5" y1="401.5" x2="286.9" y2="401.5" stroke="#000" stroke-width="1"/>
<line x1="283.5" y1="447.95" x2="286.9" y2="447.95" stroke="#000" stroke-width="1"/>
<line x1="283.5" y1="494.4" x2="427.6" y2="494.4" stroke="#000" stroke-width="1.2"/>
<line x1="308.5" y1="494.4" x2="308.5" y2="497.6" stroke="#000" stroke-width="1"/>
<line x1="350.5" y1="494.4" x2="350.5" y2="497.6" stroke="#000" stroke-width="1"/>
<line x1="392.5" y1="494.4" x2="392.5" y2="497.6" stroke="#000" stroke-width="1"/>
<line x1="291.79" y1="494.4" x2="291.79" y2="496.2" stroke="#000" stroke-width="0.85"/>
<line x1="295.86" y1="494.4" x2="295.86" y2="496.2" stroke="#000" stroke-width="0.85"/>
<line x1="299.18" y1="494.4" x2="299.18" y2="496.2" stroke="#000" stroke-width="0.85"/>
<line x1="301.99" y1="494.4" x2="301.99" y2="496.2" stroke="#000" stroke-width="0.85"/>
<line x1="304.43" y1="494.4" x2="304.43" y2="496.2" stroke="#000" stroke-width="0.85"/>
<line x1="306.58" y1="494.4" x2="306.58" y2="496.2" stroke="#000" stroke-width="0.85"/>
<line x1="321.14" y1="494.4" x2="321.14" y2="496.2" stroke="#000" stroke-width="0.85"/>
<line x1="328.54" y1="494.4" x2="328.54" y2="496.2" stroke="#000" stroke-width="0.85"/>
<line x1="333.79" y1="494.4" x2="333.79" y2="496.2" stroke="#000" stroke-width="0.85"/>
<line x1="337.86" y1="494.4" x2="337.86" y2="496.2" stroke="#000" stroke-width="0.85"/>
<line x1="341.18" y1="494.4" x2="341.18" y2="496.2" stroke="#000" stroke-width="0.85"/>
<line x1="343.99" y1="494.4" x2="343.99" y2="496.2" stroke="#000" stroke-width="0.85"/>
<line x1="346.43" y1="494.4" x2="346.43" y2="496.2" stroke="#000" stroke-width="0.85"/>
<line x1="348.58" y1="494.4" x2="348.58" y2="496.2" stroke="#000" stroke-width="0.85"/>
<line x1="363.14" y1="494.4" x2="363.14" y2="496.2" stroke="#000" stroke-width="0.85"/>
<line x1="370.54" y1="494.4" x2="370.54" y2="496.2" stroke="#000" stroke-width="0.85"/>
<line x1="375.79" y1="494.4" x2="375.79" y2="496.2" stroke="#000" stroke-width="0.85"/>
<line x1="379.86" y1="494.4" x2="379.86" y2="496.2" stroke="#000" stroke-width="0.85"/>
<line x1="383.18" y1="494.4" x2="383.18" y2="496.2" stroke="#000" stroke-width="0.85"/>
<line x1="385.99" y1="494.4" x2="385.99" y2="496.2" stroke="#000" stroke-width="0.85"/>
<line x1="388.43" y1="494.4" x2="388.43" y2="496.2" stroke="#000" stroke-width="0.85"/>
<line x1="390.58" y1="494.4" x2="390.58" y2="496.2" stroke="#000" stroke-width="0.85"/>
<line x1="405.14" y1="494.4" x2="405.14" y2="496.2" stroke="#000" stroke-width="0.85"/>
<line x1="412.54" y1="494.4" x2="412.54" y2="496.2" stroke="#000" stroke-width="0.85"/>
<line x1="417.79" y1="494.4" x2="417.79" y2="496.2" stroke="#000" stroke-width="0.85"/>
<line x1="421.86" y1="494.4" x2="421.86" y2="496.2" stroke="#000" stroke-width="0.85"/>
<line x1="425.18" y1="494.4" x2="425.18" y2="496.2" stroke="#000" stroke-width="0.85"/>
<text x="280.2" y="404.2" font-size="9" class="ti" textLength="14.52" lengthAdjust="spacingAndGlyphs" text-anchor="end">100</text>
<text x="280.2" y="450.65" font-size="9" class="ti" textLength="9.68" lengthAdjust="spacingAndGlyphs" text-anchor="end">50</text>
<text x="280.2" y="497.1" font-size="9" class="ti" textLength="4.84" lengthAdjust="spacingAndGlyphs" text-anchor="end">0</text>
<text x="308.5" y="508.9" font-size="9" class="ti" textLength="9.68" lengthAdjust="spacingAndGlyphs" text-anchor="middle">10</text>
<text x="350.5" y="508.9" font-size="9" class="ti" textLength="14.52" lengthAdjust="spacingAndGlyphs" text-anchor="middle">100</text>
<text x="392.5" y="508.9" font-size="9" class="ti" textLength="19.36" lengthAdjust="spacingAndGlyphs" text-anchor="middle">1000</text>
<text x="326.3" y="524.7" font-size="10.4" class="t" textLength="48.5" lengthAdjust="spacingAndGlyphs">ADC [ng/mL]</text>
<text transform="translate(258.3 444.5) rotate(-90)" font-size="10.3" class="t" textLength="96.1" lengthAdjust="spacingAndGlyphs" text-anchor="middle">Viability (% to untreated)</text>
<polyline points="286.84,403.89 288.32,404.34 289.8,404.87 291.28,405.5 292.76,406.24 294.23,407.11 295.71,408.12 297.19,409.3 298.67,410.67 300.15,412.25 301.63,414.05 303.11,416.11 304.59,418.42 306.06,421.01 307.54,423.87 309.02,427.01 310.5,430.39 311.98,434 313.46,437.79 314.94,441.71 316.42,445.71 317.9,449.72 319.37,453.69 320.85,457.54 322.33,461.23 323.81,464.71 325.29,467.95 326.77,470.93 328.25,473.63 329.73,476.06 331.2,478.23 332.68,480.13 334.16,481.81 335.64,483.26 337.12,484.52 338.6,485.6 340.08,486.53 341.56,487.32 343.03,487.99 344.51,488.56 345.99,489.05 347.47,489.46 348.95,489.8 350.43,490.09 351.91,490.34 353.39,490.54 354.86,490.72 356.34,490.86 357.82,490.98 359.3,491.09 360.78,491.17 362.26,491.24 363.74,491.3 365.22,491.35 366.69,491.4 368.17,491.43 369.65,491.46 371.13,491.49 372.61,491.51 374.09,491.52 375.57,491.54 377.05,491.55 378.53,491.56 380,491.57 381.48,491.58 382.96,491.58 384.44,491.59 385.92,491.59 387.4,491.6 388.88,491.6 390.36,491.6 391.83,491.6 393.31,491.6 394.79,491.61 396.27,491.61 397.75,491.61 399.23,491.61 400.71,491.61 402.19,491.61 403.66,491.61 405.14,491.61" fill="none" stroke="#8c8c8c" stroke-width="1.4" stroke-linejoin="round"/>
<polyline points="286.84,403.38 288.32,403.38 289.8,403.38 291.28,403.38 292.76,403.38 294.23,403.39 295.71,403.39 297.19,403.39 298.67,403.39 300.15,403.4 301.63,403.4 303.11,403.4 304.59,403.41 306.06,403.41 307.54,403.42 309.02,403.42 310.5,403.43 311.98,403.43 313.46,403.44 314.94,403.44 316.42,403.45 317.9,403.46 319.37,403.47 320.85,403.48 322.33,403.49 323.81,403.5 325.29,403.51 326.77,403.52 328.25,403.54 329.73,403.55 331.2,403.57 332.68,403.59 334.16,403.61 335.64,403.63 337.12,403.65 338.6,403.67 340.08,403.7 341.56,403.73 343.03,403.76 344.51,403.79 345.99,403.83 347.47,403.87 348.95,403.91 350.43,403.96 351.91,404.01 353.39,404.06 354.86,404.12 356.34,404.19 357.82,404.26 359.3,404.33 360.78,404.41 362.26,404.5 363.74,404.6 365.22,404.7 366.69,404.81 368.17,404.93 369.65,405.06 371.13,405.2 372.61,405.35 374.09,405.52 375.57,405.7 377.05,405.89 378.53,406.09 380,406.32 381.48,406.56 382.96,406.82 384.44,407.1 385.92,407.4 387.4,407.73 388.88,408.08 390.36,408.45 391.83,408.86 393.31,409.29 394.79,409.76 396.27,410.26 397.75,410.79 399.23,411.36 400.71,411.98 402.19,412.63 403.66,413.33 405.14,414.07" fill="none" stroke="#f0821e" stroke-width="1.4" stroke-linejoin="round"/>
<polyline points="286.84,404.3 288.32,404.3 289.8,404.3 291.28,404.3 292.76,404.31 294.23,404.31 295.71,404.31 297.19,404.32 298.67,404.32 300.15,404.33 301.63,404.33 303.11,404.34 304.59,404.35 306.06,404.36 307.54,404.37 309.02,404.38 310.5,404.39 311.98,404.41 313.46,404.43 314.94,404.45 316.42,404.48 317.9,404.51 319.37,404.55 320.85,404.59 322.33,404.63 323.81,404.69 325.29,404.75 326.77,404.82 328.25,404.91 329.73,405 331.2,405.11 332.68,405.24 334.16,405.39 335.64,405.56 337.12,405.76 338.6,405.98 340.08,406.24 341.56,406.54 343.03,406.89 344.51,407.28 345.99,407.73 347.47,408.25 348.95,408.84 350.43,409.51 351.91,410.28 353.39,411.15 354.86,412.13 356.34,413.23 357.82,414.48 359.3,415.86 360.78,417.41 362.26,419.12 363.74,421.01 365.22,423.07 366.69,425.31 368.17,427.72 369.65,430.31 371.13,433.05 372.61,435.93 374.09,438.93 375.57,442.02 377.05,445.18 378.53,448.36 380,451.54 381.48,454.68 382.96,457.75 384.44,460.72 385.92,463.57 387.4,466.27 388.88,468.81 390.36,471.18 391.83,473.38 393.31,475.39 394.79,477.23 396.27,478.9 397.75,480.41 399.23,481.76 400.71,482.96 402.19,484.03 403.66,484.99 405.14,485.83" fill="none" stroke="#1aa0c2" stroke-width="1.4" stroke-linejoin="round"/>
<polyline points="286.84,402.31 288.32,402.36 289.8,402.42 291.28,402.48 292.76,402.55 294.23,402.63 295.71,402.72 297.19,402.82 298.67,402.94 300.15,403.08 301.63,403.23 303.11,403.4 304.59,403.6 306.06,403.82 307.54,404.07 309.02,404.35 310.5,404.67 311.98,405.03 313.46,405.44 314.94,405.9 316.42,406.41 317.9,406.99 319.37,407.64 320.85,408.37 322.33,409.19 323.81,410.09 325.29,411.1 326.77,412.21 328.25,413.44 329.73,414.79 331.2,416.27 332.68,417.89 334.16,419.64 335.64,421.53 337.12,423.56 338.6,425.72 340.08,428.02 341.56,430.43 343.03,432.95 344.51,435.56 345.99,438.25 347.47,441 348.95,443.77 350.43,446.56 351.91,449.33 353.39,452.07 354.86,454.74 356.34,457.34 357.82,459.85 359.3,462.24 360.78,464.51 362.26,466.65 363.74,468.66 365.22,470.53 366.69,472.25 368.17,473.85 369.65,475.31 371.13,476.64 372.61,477.85 374.09,478.94 375.57,479.93 377.05,480.82 378.53,481.62 380,482.33 381.48,482.97 382.96,483.54 384.44,484.05 385.92,484.5 387.4,484.89 388.88,485.25 390.36,485.56 391.83,485.84 393.31,486.08 394.79,486.3 396.27,486.49 397.75,486.66 399.23,486.81 400.71,486.94 402.19,487.06 403.66,487.16 405.14,487.25" fill="none" stroke="#111" stroke-width="1.4" stroke-linejoin="round"/>
<polyline points="286.84,402.23 288.32,402.27 289.8,402.31 291.28,402.36 292.76,402.41 294.23,402.48 295.71,402.55 297.19,402.63 298.67,402.72 300.15,402.82 301.63,402.94 303.11,403.07 304.59,403.22 306.06,403.39 307.54,403.59 309.02,403.81 310.5,404.06 311.98,404.34 313.46,404.66 314.94,405.02 316.42,405.42 317.9,405.88 319.37,406.4 320.85,406.98 322.33,407.62 323.81,408.35 325.29,409.16 326.77,410.06 328.25,411.06 329.73,412.18 331.2,413.4 332.68,414.75 334.16,416.23 335.64,417.84 337.12,419.58 338.6,421.47 340.08,423.5 341.56,425.66 343.03,427.95 344.51,430.35 345.99,432.87 347.47,435.48 348.95,438.17 350.43,440.91 351.91,443.69 353.39,446.47 354.86,449.25 356.34,451.98 357.82,454.66 359.3,457.26 360.78,459.77 362.26,462.17 363.74,464.44 365.22,466.59 366.69,468.6 368.17,470.47 369.65,472.2 371.13,473.8 372.61,475.26 374.09,476.6 375.57,477.81 377.05,478.91 378.53,479.9 380,480.79 381.48,481.59 382.96,482.31 384.44,482.95 385.92,483.52 387.4,484.03 388.88,484.48 390.36,484.88 391.83,485.24 393.31,485.55 394.79,485.83 396.27,486.08 397.75,486.29 399.23,486.49 400.71,486.66 402.19,486.8 403.66,486.94 405.14,487.05" fill="none" stroke="#111" stroke-width="1.4" stroke-linejoin="round"/>
<polygon points="303.97,413.95 307.22,417.2 303.97,420.45 300.72,417.2" fill="#9a9a9a"/>
<polygon points="316.61,445.25 319.86,448.5 316.61,451.75 313.36,448.5" fill="#9a9a9a"/>
<polygon points="329.28,472.25 332.53,475.5 329.28,478.75 326.03,475.5" fill="#9a9a9a"/>
<polygon points="341.93,483.95 345.18,487.2 341.93,490.45 338.68,487.2" fill="#9a9a9a"/>
<polygon points="354.57,487.35 357.82,490.6 354.57,493.85 351.32,490.6" fill="#9a9a9a"/>
<polygon points="367.21,488.05 370.46,491.3 367.21,494.55 363.96,491.3" fill="#9a9a9a"/>
<polygon points="379.86,488.05 383.11,491.3 379.86,494.55 376.61,491.3" fill="#9a9a9a"/>
<polygon points="392.5,488.05 395.75,491.3 392.5,494.55 389.25,491.3" fill="#9a9a9a"/>
<polygon points="405.14,488.75 408.39,492 405.14,495.25 401.89,492" fill="#9a9a9a"/>
<rect x="301.47" y="415.2" width="5" height="5" fill="#8c8c8c"/>
<rect x="314.11" y="446.7" width="5" height="5" fill="#8c8c8c"/>
<rect x="326.78" y="473.7" width="5" height="5" fill="#8c8c8c"/>
<rect x="339.43" y="485.2" width="5" height="5" fill="#8c8c8c"/>
<rect x="352.07" y="488.3" width="5" height="5" fill="#8c8c8c"/>
<rect x="364.71" y="489" width="5" height="5" fill="#8c8c8c"/>
<rect x="377.36" y="489" width="5" height="5" fill="#8c8c8c"/>
<rect x="390" y="489" width="5" height="5" fill="#8c8c8c"/>
<rect x="402.64" y="489.8" width="5" height="5" fill="#8c8c8c"/>
<polygon points="329.28,406.32 332.41,400.86 326.16,400.86" fill="#f0821e"/>
<polygon points="341.93,406.93 345.05,401.46 338.8,401.46" fill="#f0821e"/>
<polygon points="354.57,407.73 357.7,402.26 351.45,402.26" fill="#f0821e"/>
<polygon points="367.21,408.52 370.34,403.06 364.09,403.06" fill="#f0821e"/>
<polygon points="379.86,410.32 382.98,404.86 376.73,404.86" fill="#f0821e"/>
<polygon points="392.5,413.93 395.62,408.46 389.38,408.46" fill="#f0821e"/>
<polygon points="405.14,417.43 408.27,411.96 402.02,411.96" fill="#f0821e"/>
<rect x="314.11" y="409.9" width="5" height="5" fill="#000"/>
<rect x="326.78" y="413.7" width="5" height="5" fill="#000"/>
<rect x="339.43" y="432.1" width="5" height="5" fill="#000"/>
<rect x="352.07" y="454.9" width="5" height="5" fill="#000"/>
<rect x="364.71" y="470.5" width="5" height="5" fill="#000"/>
<rect x="377.36" y="478.3" width="5" height="5" fill="#000"/>
<rect x="390" y="482.9" width="5" height="5" fill="#000"/>
<rect x="402.64" y="484.5" width="5" height="5" fill="#000"/>
<polygon points="316.61,406.75 319.86,410 316.61,413.25 313.36,410" fill="#000"/>
<polygon points="329.28,409.25 332.53,412.5 329.28,415.75 326.03,412.5" fill="#000"/>
<polygon points="341.93,423.75 345.18,427 341.93,430.25 338.68,427" fill="#000"/>
<polygon points="354.57,445.95 357.82,449.2 354.57,452.45 351.32,449.2" fill="#000"/>
<polygon points="367.21,465.95 370.46,469.2 367.21,472.45 363.96,469.2" fill="#000"/>
<polygon points="379.86,476.75 383.11,480 379.86,483.25 376.61,480" fill="#000"/>
<polygon points="392.5,481.75 395.75,485 392.5,488.25 389.25,485" fill="#000"/>
<polygon points="405.14,483.35 408.39,486.6 405.14,489.85 401.89,486.6" fill="#000"/>
<polygon points="329.28,405.38 332.41,410.84 326.16,410.84" fill="#1aa0c2"/>
<polygon points="341.93,406.88 345.05,412.34 338.8,412.34" fill="#1aa0c2"/>
<polygon points="354.57,412.27 357.7,417.74 351.45,417.74" fill="#1aa0c2"/>
<polygon points="367.21,427.18 370.34,432.64 364.09,432.64" fill="#1aa0c2"/>
<polygon points="379.86,445.07 382.98,450.54 376.73,450.54" fill="#1aa0c2"/>
<polygon points="392.5,473.07 395.62,478.54 389.38,478.54" fill="#1aa0c2"/>
<polygon points="405.14,484.57 408.27,490.04 402.02,490.04" fill="#1aa0c2"/>
<line x1="367.21" y1="400.8" x2="367.21" y2="410.8" stroke="#333" stroke-width="0.8"/>
<line x1="365.01" y1="400.8" x2="369.41" y2="400.8" stroke="#333" stroke-width="0.8"/>
<line x1="365.01" y1="410.8" x2="369.41" y2="410.8" stroke="#333" stroke-width="0.8"/>
<line x1="379.86" y1="401.5" x2="379.86" y2="414" stroke="#333" stroke-width="0.8"/>
<line x1="377.66" y1="401.5" x2="382.06" y2="401.5" stroke="#333" stroke-width="0.8"/>
<line x1="377.66" y1="414" x2="382.06" y2="414" stroke="#333" stroke-width="0.8"/>
<line x1="392.5" y1="404.6" x2="392.5" y2="418.5" stroke="#333" stroke-width="0.8"/>
<line x1="390.3" y1="404.6" x2="394.7" y2="404.6" stroke="#333" stroke-width="0.8"/>
<line x1="390.3" y1="418.5" x2="394.7" y2="418.5" stroke="#333" stroke-width="0.8"/>
<line x1="405.14" y1="409.2" x2="405.14" y2="420.8" stroke="#333" stroke-width="0.8"/>
<line x1="402.94" y1="409.2" x2="407.34" y2="409.2" stroke="#333" stroke-width="0.8"/>
<line x1="402.94" y1="420.8" x2="407.34" y2="420.8" stroke="#333" stroke-width="0.8"/>
<line x1="379.86" y1="446.9" x2="379.86" y2="457.4" stroke="#333" stroke-width="0.8"/>
<line x1="377.66" y1="446.9" x2="382.06" y2="446.9" stroke="#333" stroke-width="0.8"/>
<line x1="377.66" y1="457.4" x2="382.06" y2="457.4" stroke="#333" stroke-width="0.8"/>
<line x1="316.61" y1="440" x2="316.61" y2="457.7" stroke="#333" stroke-width="0.8"/>
<line x1="314.41" y1="440" x2="318.81" y2="440" stroke="#333" stroke-width="0.8"/>
<line x1="314.41" y1="457.7" x2="318.81" y2="457.7" stroke="#333" stroke-width="0.8"/>
<line x1="303.97" y1="398.5" x2="303.97" y2="406.2" stroke="#111" stroke-width="0.9"/>
<line x1="301.77" y1="398.5" x2="306.17" y2="398.5" stroke="#111" stroke-width="0.9"/>
<line x1="301.77" y1="406.2" x2="306.17" y2="406.2" stroke="#111" stroke-width="0.9"/>
<line x1="316.61" y1="401.6" x2="316.61" y2="412" stroke="#111" stroke-width="0.9"/>
<line x1="314.41" y1="401.6" x2="318.81" y2="401.6" stroke="#111" stroke-width="0.9"/>
<line x1="314.41" y1="412" x2="318.81" y2="412" stroke="#111" stroke-width="0.9"/>
<line x1="329.28" y1="412" x2="329.28" y2="422.4" stroke="#111" stroke-width="0.9"/>
<line x1="327.08" y1="412" x2="331.48" y2="412" stroke="#111" stroke-width="0.9"/>
<line x1="327.08" y1="422.4" x2="331.48" y2="422.4" stroke="#111" stroke-width="0.9"/>
<line x1="341.93" y1="423.8" x2="341.93" y2="438" stroke="#111" stroke-width="0.9"/>
<line x1="339.73" y1="423.8" x2="344.13" y2="423.8" stroke="#111" stroke-width="0.9"/>
<line x1="339.73" y1="438" x2="344.13" y2="438" stroke="#111" stroke-width="0.9"/>
<line x1="354.57" y1="444" x2="354.57" y2="460" stroke="#111" stroke-width="0.9"/>
<line x1="352.37" y1="444" x2="356.77" y2="444" stroke="#111" stroke-width="0.9"/>
<line x1="352.37" y1="460" x2="356.77" y2="460" stroke="#111" stroke-width="0.9"/>
<text transform="translate(439.6 423) rotate(-90)" font-size="8.6" textLength="42" lengthAdjust="spacingAndGlyphs" text-anchor="middle">20D9-ADC</text>
<text transform="translate(440.5 472.4) rotate(-90)" font-size="8.6" textLength="41" lengthAdjust="spacingAndGlyphs" text-anchor="middle">IgG1-ADC</text>
<line x1="445.1" y1="401.6" x2="445.1" y2="444" stroke="#000" stroke-width="1"/>
<line x1="445.1" y1="451.9" x2="445.1" y2="493" stroke="#000" stroke-width="1"/>
<line x1="449.7" y1="411.4" x2="463.4" y2="411.4" stroke="#8c8c8c" stroke-width="1.2"/>
<rect x="453.9" y="408.8" width="5.2" height="5.2" fill="#8c8c8c"/>
<text x="467" y="414.4" font-size="8.4" textLength="24.5" lengthAdjust="spacingAndGlyphs">native</text>
<line x1="449.7" y1="424.5" x2="463.4" y2="424.5" stroke="#999" stroke-width="1.2"/>
<polygon points="456.5,421.12 459.88,424.5 456.5,427.88 453.12,424.5" fill="#999"/>
<text x="467" y="427.5" font-size="8.4" textLength="53" lengthAdjust="spacingAndGlyphs">buffer control</text>
<line x1="449.7" y1="437.6" x2="463.4" y2="437.6" stroke="#1aa0c2" stroke-width="1.2"/>
<polygon points="456.5,434.35 459.75,440.04 453.25,440.04" fill="#1aa0c2"/>
<text x="467" y="440.6" font-size="8.4" textLength="28.4" lengthAdjust="spacingAndGlyphs">deglyc.</text>
<line x1="449.7" y1="457.7" x2="463.4" y2="457.7" stroke="#000" stroke-width="1.2"/>
<rect x="453.9" y="455.1" width="5.2" height="5.2" fill="#000"/>
<text x="467" y="460.7" font-size="8.4" textLength="24.5" lengthAdjust="spacingAndGlyphs">native</text>
<line x1="449.7" y1="470.5" x2="463.4" y2="470.5" stroke="#000" stroke-width="1.2"/>
<polygon points="456.5,467.12 459.88,470.5 456.5,473.88 453.12,470.5" fill="#000"/>
<text x="467" y="473.5" font-size="8.4" textLength="53" lengthAdjust="spacingAndGlyphs">buffer control</text>
<line x1="449.7" y1="483.3" x2="463.4" y2="483.3" stroke="#f0821e" stroke-width="1.2"/>
<polygon points="456.5,486.55 459.75,480.86 453.25,480.86" fill="#f0821e"/>
<text x="467" y="486.3" font-size="8.4" textLength="28.4" lengthAdjust="spacingAndGlyphs">deglyc.</text>
<line x1="279.6" y1="530.7" x2="421.9" y2="530.7" stroke="#333" stroke-width="1.1"/>
<line x1="279.6" y1="544.8" x2="421.9" y2="544.8" stroke="#333" stroke-width="1.1"/>
<line x1="279.6" y1="560.6" x2="421.9" y2="560.6" stroke="#333" stroke-width="1.1"/>
<line x1="279.6" y1="573.9" x2="421.9" y2="573.9" stroke="#333" stroke-width="1.1"/>
<line x1="280.2" y1="530.2" x2="280.2" y2="574.4" stroke="#333" stroke-width="1.1"/>
<line x1="334.5" y1="530.2" x2="334.5" y2="574.4" stroke="#333" stroke-width="1.1"/>
<line x1="376.2" y1="530.2" x2="376.2" y2="574.4" stroke="#333" stroke-width="1.1"/>
<line x1="421.4" y1="530.2" x2="421.4" y2="574.4" stroke="#333" stroke-width="1.1"/>
<text x="282.5" y="541.3" font-size="8.4" textLength="50" lengthAdjust="spacingAndGlyphs">IC50 (ng/mL)</text>
<text x="355.3" y="541.3" font-size="8.4" textLength="28" lengthAdjust="spacingAndGlyphs" text-anchor="middle">control</text>
<text x="399.2" y="541.3" font-size="8.4" textLength="27" lengthAdjust="spacingAndGlyphs" text-anchor="middle">deglyc.</text>
<text x="282.5" y="555.5" font-size="8.4" textLength="40" lengthAdjust="spacingAndGlyphs">20D9-ADC</text>
<text x="354.5" y="555.5" font-size="8.4" textLength="16" lengthAdjust="spacingAndGlyphs" text-anchor="middle">15.7</text>
<text x="398.7" y="555.5" font-size="8.4" textLength="21.5" lengthAdjust="spacingAndGlyphs" text-anchor="middle">473.7</text>
<text x="282.5" y="570.3" font-size="8.4" textLength="38" lengthAdjust="spacingAndGlyphs">IgG1-ADC</text>
<text x="355" y="570.3" font-size="8.4" textLength="21.5" lengthAdjust="spacingAndGlyphs" text-anchor="middle">102.2</text>
<text x="398.7" y="570.3" font-size="8.4" textLength="24.5" lengthAdjust="spacingAndGlyphs" text-anchor="middle">&gt;2000</text>
</svg>
</body></html>
